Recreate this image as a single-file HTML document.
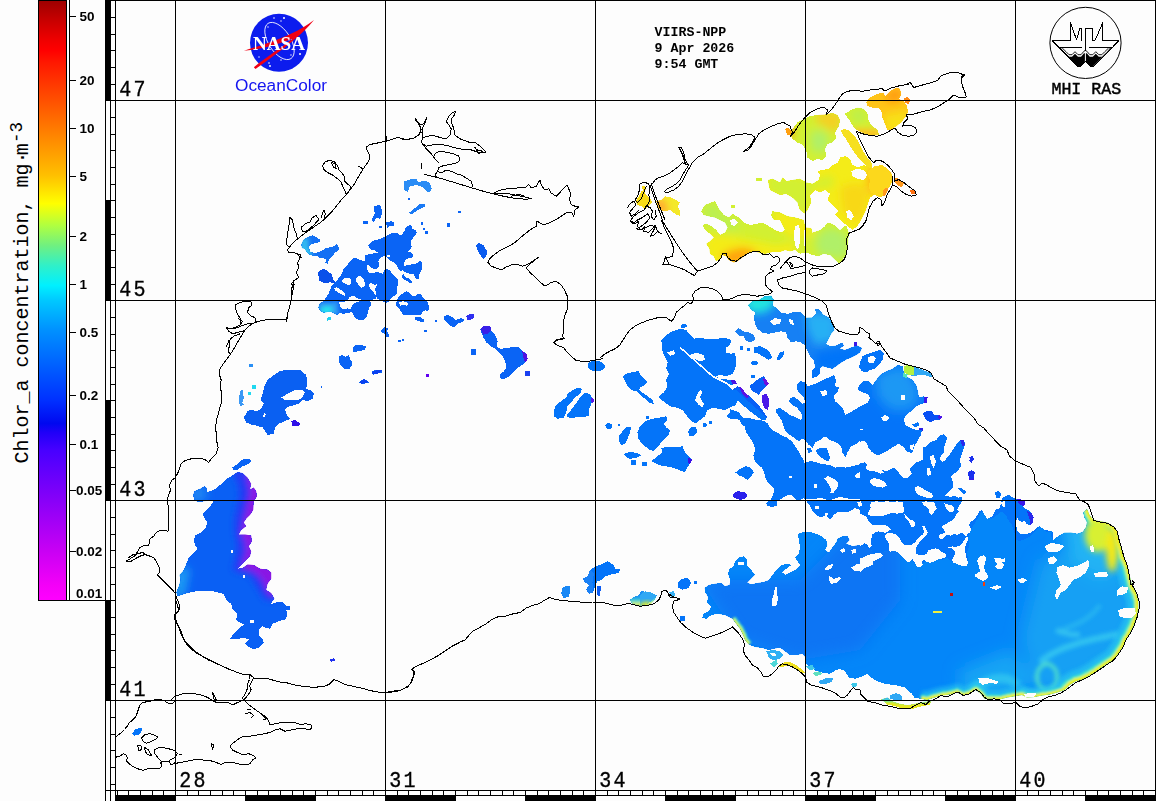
<!DOCTYPE html>
<html lang="en"><head><meta charset="utf-8"><title>VIIRS-NPP Chlor_a Black Sea</title>
<style>
html,body{margin:0;padding:0;background:#fdfdfd;}
body{width:1156px;height:801px;overflow:hidden;position:relative;font-family:"Liberation Mono",monospace;}
svg{position:absolute;left:0;top:0;display:block;}
.g{stroke:#000;stroke-width:1;fill:none;shape-rendering:crispEdges;}
.c{stroke:#000;stroke-width:1;fill:none;stroke-linejoin:round;stroke-linecap:round;shape-rendering:crispEdges;}
.num{font-family:"Liberation Mono",monospace;font-size:21.5px;fill:#000;stroke:#000;stroke-width:0.35px;}
.cb{font-family:"Liberation Sans",sans-serif;font-weight:bold;font-size:13.5px;fill:#000;}
.hd{font-family:"Liberation Mono",monospace;font-weight:bold;font-size:13.3px;fill:#000;}
</style></head><body>
<svg width="1156" height="801" viewBox="0 0 1156 801">
<defs>
<linearGradient id="cbar" x1="0" y1="0" x2="0" y2="1">
<stop offset="0.0000" stop-color="#9c0000"/>
<stop offset="0.0300" stop-color="#c40000"/>
<stop offset="0.0667" stop-color="#f00000"/>
<stop offset="0.0833" stop-color="#ff0000"/>
<stop offset="0.1033" stop-color="#ff1800"/>
<stop offset="0.1667" stop-color="#ff5000"/>
<stop offset="0.2333" stop-color="#ff8c00"/>
<stop offset="0.2917" stop-color="#ffc000"/>
<stop offset="0.3383" stop-color="#ffff00"/>
<stop offset="0.3750" stop-color="#b0ff40"/>
<stop offset="0.4083" stop-color="#70f080"/>
<stop offset="0.4417" stop-color="#30f0c8"/>
<stop offset="0.4750" stop-color="#00f0ff"/>
<stop offset="0.5000" stop-color="#00c8ff"/>
<stop offset="0.5500" stop-color="#0090ff"/>
<stop offset="0.6083" stop-color="#0060ff"/>
<stop offset="0.6667" stop-color="#0030ff"/>
<stop offset="0.7050" stop-color="#0008f0"/>
<stop offset="0.7200" stop-color="#2000f8"/>
<stop offset="0.7500" stop-color="#4800ff"/>
<stop offset="0.8333" stop-color="#8800f8"/>
<stop offset="0.9167" stop-color="#c800f4"/>
<stop offset="0.9750" stop-color="#f400f8"/>
<stop offset="1.0000" stop-color="#ff00ff"/>
</linearGradient>
</defs>
<rect x="0" y="0" width="1156" height="801" fill="#fdfdfd"/>

<defs><filter id="bl1" x="-30%" y="-30%" width="160%" height="160%"><feGaussianBlur stdDeviation="1"/></filter><filter id="bl2" x="-30%" y="-30%" width="160%" height="160%"><feGaussianBlur stdDeviation="2"/></filter><filter id="bl3" x="-30%" y="-30%" width="160%" height="160%"><feGaussianBlur stdDeviation="3"/></filter><filter id="bl4" x="-30%" y="-30%" width="160%" height="160%"><feGaussianBlur stdDeviation="4"/></filter><filter id="bl6" x="-30%" y="-30%" width="160%" height="160%"><feGaussianBlur stdDeviation="6"/></filter><filter id="bl8" x="-30%" y="-30%" width="160%" height="160%"><feGaussianBlur stdDeviation="8"/></filter><filter id="bl12" x="-30%" y="-30%" width="160%" height="160%"><feGaussianBlur stdDeviation="12"/></filter></defs>
<g id="data" shape-rendering="crispEdges">
<path fill="#1470f4" d="M301.3 244.5L303.2 240.1L307.6 237.0L312.6 235.1L316.3 237.0L319.9 239.5L319.5 242.0L315.1 243.2L310.7 244.5L308.8 247.0L310.1 251.4L313.2 252.6L317.0 252.6L321.4 250.7L326.4 247.9L332.6 247.0L336.7 244.1L338.9 247.9L338.3 250.7L335.2 252.6L332.0 256.4L328.9 259.5L327.6 263.7L325.4 263.3L325.7 259.5L322.9 257.6L320.1 258.3L317.8 255.8L313.2 255.8L309.4 254.5L306.3 251.4L304.8 248.9L301.9 247.9Z" />
<path fill="#0a50ea" d="M318.2 272.1L321.4 269.6L324.5 269.2L327.6 271.2L331.4 274.0L332.6 277.1L333.3 280.2L335.2 282.1L333.3 283.4L330.1 282.1L327.0 283.4L323.2 282.7L319.5 280.9L318.6 277.1Z" />
<path fill="#0a64f5" d="M368.4 245.1L371.5 242.0L375.3 240.1L380.3 238.8L384.7 237.0L389.1 234.4L392.2 232.6L396.6 232.6L399.1 235.1L402.3 233.8L404.8 230.7L406.0 226.9L409.2 225.3L412.3 225.7L412.3 228.8L415.4 230.1L416.9 232.6L414.8 235.7L412.3 238.8L410.4 242.0L411.7 246.4L410.4 249.5L407.9 252.0L411.0 252.6L413.6 255.1L411.7 257.6L407.9 258.3L405.4 260.2L403.5 263.3L402.9 267.7L400.4 271.4L398.5 268.9L396.6 265.2L394.1 262.7L390.3 260.8L387.8 258.3L386.0 256.4L382.8 256.4L379.7 256.4L377.8 252.6L375.3 250.7L371.5 249.5L369.0 247.9Z" />
<path fill="#0a64f5" d="M403.5 263.3L404.1 265.8L407.9 265.2L412.9 263.9L417.3 263.3L419.8 260.2L421.7 262.0L421.7 265.2L422.3 268.9L420.4 272.1L419.2 275.2L419.2 279.0L416.7 279.6L414.8 276.5L413.6 274.0L410.4 273.7L407.3 273.3L404.8 272.1L402.9 270.2L400.4 271.4L402.3 265.2Z" />
<path fill="#0a64f5" d="M403.5 274.0L405.4 277.1L408.5 278.3L411.7 280.9L411.7 283.4L408.5 282.1L405.4 280.2L402.9 279.0L401.6 276.5Z" />
<path fill="#0a64f5" d="M365.3 255.1L370.3 253.9L377.8 252.6L382.8 256.4L379.7 258.3L378.4 261.4L379.7 265.2L377.8 268.3L375.3 269.6L372.2 268.3L369.6 265.8L367.1 264.5L365.3 261.4Z" />
<path fill="#0a64f5" d="M352.7 258.3L356.5 258.3L360.2 260.2L365.3 261.4L367.1 264.5L366.5 267.7L368.4 271.4L371.5 275.2L372.2 279.0L370.3 282.7L368.4 285.9L370.9 289.0L373.4 292.1L375.3 295.3L376.5 298.4L374.0 299.3L370.3 300.3L365.3 300.5L360.2 299.3L356.5 297.8L353.3 296.5L350.8 297.2L348.3 299.3L345.2 301.5L323.9 301.5L325.7 297.8L328.3 294.0L330.1 290.3L331.4 286.5L333.9 283.4L337.0 280.2L340.2 276.5L342.7 272.1L343.9 268.3L347.1 265.2L349.6 262.0Z" />
<path fill="#0a64f5" d="M370.3 273.3L377.8 272.1L383.4 274.0L383.4 277.7L380.3 280.2L377.8 283.4L375.3 285.2L372.2 283.4L370.3 282.7L372.2 279.0L371.5 275.2Z" />
<path fill="#0a64f5" d="M386.0 268.9L389.1 269.9L391.6 272.7L394.1 275.2L396.6 277.7L397.9 280.2L397.6 285.2L396.6 289.0L397.2 292.8L395.4 295.3L392.2 297.2L390.3 299.0L388.5 301.5L386.0 302.8L382.8 301.5L379.7 300.3L377.2 298.4L375.3 295.3L373.4 291.5L375.9 287.1L377.8 283.4L380.3 280.2L383.4 277.7L382.8 274.0L384.1 270.8Z" />
<path fill="#0a64f5" d="M397.9 297.8L400.4 295.3L403.5 292.8L406.7 290.9L409.2 292.8L412.3 295.9L415.4 296.5L417.9 293.4L420.4 294.0L423.0 297.2L425.5 299.7L428.0 302.8L429.2 307.8L428.0 311.6L425.5 310.3L423.0 311.6L420.4 315.0L402.9 315.0L400.4 310.3L397.9 307.8L396.0 304.7L396.6 301.5Z" />
<path fill="#fdfdfd" d="M342.1 280.2L345.2 277.7L349.0 277.7L351.5 280.2L350.8 284.0L348.3 285.2L345.2 283.4L342.7 283.4Z" />
<path fill="#fdfdfd" d="M355.9 278.3L358.4 275.8L361.5 276.5L364.0 280.2L365.3 284.0L364.0 287.1L360.9 287.8L358.4 284.6L356.5 281.5Z" />
<path fill="#fdfdfd" d="M333.9 288.4L336.4 287.1L339.5 289.0L342.7 290.9L345.2 293.4L344.6 295.9L342.1 294.6L338.9 292.8L335.8 290.9Z" />
<path fill="#fdfdfd" d="M349.0 297.8L351.5 295.9L354.6 296.5L357.7 298.4L355.2 300.0L351.5 300.0Z" />
<path fill="#fdfdfd" d="M370.3 283.4L372.8 285.2L375.3 290.3L376.5 295.3L374.7 294.6L372.8 290.9L370.9 287.8Z" />
<path fill="#fdfdfd" d="M399.1 232.6L401.6 231.3L402.9 233.2L401.0 235.1Z" />
<path fill="#fdfdfd" d="M386.6 254.5L390.3 255.1L389.1 257.6L386.6 257.0Z" />
<path fill="#0a64f5" d="M318.2 307.6L319.5 303.8L323.9 300.7L331.4 300.1L337.7 300.7L339.5 303.8L340.2 307.0L343.9 309.5L347.7 308.2L350.2 309.5L352.1 306.3L353.3 303.8L357.7 301.9L362.8 300.7L367.8 300.7L371.5 301.9L370.9 305.1L369.0 308.2L367.8 312.6L366.5 317.0L364.0 319.5L359.0 320.1L355.2 317.9L353.3 314.5L351.5 312.0L347.7 313.2L343.3 313.8L340.2 312.8L337.0 314.9L333.9 313.2L331.4 312.0L327.6 312.0L323.9 312.8L320.7 311.3Z" />
<path fill="#0a64f5" d="M326.4 317.9L330.8 317.0L331.1 319.9L327.0 320.7Z" />
<path fill="#0a64f5" d="M380.9 330.8L384.7 326.4L387.8 328.3L387.2 332.0L389.1 334.5L388.5 337.1L386.0 336.4L385.3 333.9L382.8 333.3Z" />
<path fill="#0a64f5" d="M353.3 347.1L355.2 345.2L360.2 345.0L365.9 346.2L365.3 349.2L361.5 350.9L356.5 351.5L354.0 352.5L352.7 350.2Z" />
<path fill="#0a64f5" d="M338.9 355.9L342.7 355.2L345.2 356.7L349.0 355.2L350.2 359.0L352.1 362.1L351.5 365.9L348.3 369.0L345.2 369.3L342.1 366.5L339.5 363.4L339.2 359.6Z" />
<path fill="#0a64f5" d="M371.5 371.5L375.3 370.0L378.4 370.5L382.2 370.3L381.6 372.6L377.8 372.8L374.0 374.7L372.2 374.3Z" />
<path fill="#0a64f5" d="M359.0 382.2L363.4 379.1L366.5 380.3L369.0 382.8L365.3 383.5L361.5 384.1Z" />
<path fill="#0a64f5" d="M290.0 371.5L298.8 370.3L300.0 373.4L305.1 374.7L306.9 380.3L306.3 385.0L290.0 385.0Z" />
<path fill="#0a64f5" d="M397.9 340.2L400.4 339.6L401.0 341.4L398.9 342.7Z" />
<path fill="#0a64f5" d="M401.6 339.2L403.9 338.9L403.9 340.8L401.9 340.9Z" />
<path fill="#0a64f5" d="M424.0 329.9L426.7 329.9L426.7 331.7L424.0 331.7Z" />
<path fill="#0a64f5" d="M415.4 318.9L417.9 317.0L420.4 317.9L421.1 319.9L424.2 320.4L424.5 322.0L421.7 322.4L419.2 320.7L416.7 320.4Z" />
<path fill="#6000f0" d="M426.1 374.1L428.6 374.1L428.6 376.6L426.1 376.6Z" />
<path fill="#fdfdfd" d="M399.1 302.6L402.9 301.3L406.7 301.9L408.5 303.8L407.3 305.7L403.5 305.1L400.4 305.7Z" />
<path fill="#2a8cf5" d="M404.2 181.2L410.0 179.5L416.2 179.0L418.8 182.0L425.0 180.5L430.0 183.0L431.8 188.8L430.0 192.5L426.2 191.2L422.5 187.0L416.2 185.0L410.0 186.2L407.5 192.0L404.5 190.0Z" />
<path fill="#1a7af5" d="M409.2 212.5L412.5 210.0L416.2 207.0L420.0 203.8L424.5 203.8L424.5 207.0L420.0 208.8L416.2 211.2L411.2 214.5Z" />
<path fill="#0a64f5" d="M373.8 206.2L380.0 205.0L381.5 208.8L382.0 213.8L380.0 218.8L376.2 218.0L373.8 222.0L372.0 220.0L373.0 216.2L375.0 213.8L373.8 210.0Z" />
<path fill="#0a64f5" d="M363.2 220.8L368.0 220.8L368.0 223.8L363.2 223.8Z" />
<path fill="#0a64f5" d="M386.2 222.5L391.2 221.2L394.2 222.5L393.8 225.5L390.0 226.2L387.0 228.0Z" />
<path fill="#0a64f5" d="M379.2 225.8L381.8 225.8L381.8 228.0L379.2 228.0Z" />
<path fill="#0a64f5" d="M421.2 222.0L423.2 222.0L423.2 224.5L421.2 224.5Z" />
<path fill="#0a64f5" d="M422.5 227.5L425.0 227.5L425.0 230.0L422.5 230.0Z" />
<path fill="#0a64f5" d="M425.0 231.2L427.5 231.2L427.5 234.2L425.0 234.2Z" />
<path fill="#0a64f5" d="M447.0 223.0L450.0 223.0L450.0 227.0L447.0 227.0Z" />
<path fill="#0a64f5" d="M458.2 210.8L460.8 210.8L460.8 213.2L458.2 213.2Z" />
<path fill="#0a64f5" d="M407.5 197.5L409.5 197.5L409.5 199.5L407.5 199.5Z" />
<path fill="#0a5cf0" d="M476.2 245.0L478.8 243.2L483.8 245.0L485.5 248.8L487.5 251.2L486.2 256.2L483.0 259.2L481.2 256.2L478.8 252.5L476.8 248.8Z" />
<path fill="#0a64f5" d="M443.8 316.2L447.5 315.0L452.5 317.5L456.2 320.0L461.2 318.0L464.5 320.0L461.2 322.5L457.5 323.8L455.0 327.0L450.0 326.2L447.5 322.5L444.5 320.0Z" />
<path fill="#3030f0" d="M466.2 316.2L470.0 313.8L473.8 313.8L474.5 317.0L471.2 319.5L467.5 319.5Z" />
<path fill="#0a64f5" d="M434.5 319.5L437.0 319.5L437.0 322.0L434.5 322.0Z" />
<path fill="#0a64f5" d="M415.0 317.5L420.0 317.0L424.5 320.0L423.8 322.5L418.8 321.2L415.5 320.0Z" />
<path fill="#0a64f5" d="M424.2 329.5L426.8 329.5L426.8 332.0L424.2 332.0Z" />
<path fill="#0a64f5" d="M471.2 348.8L475.0 348.8L475.8 353.8L472.5 355.0L471.2 352.0Z" />
<path fill="#0a64f5" d="M480.2 328.8L484.0 325.8L490.2 326.2L491.5 331.2L495.2 335.0L497.8 341.2L496.5 346.2L500.2 348.8L506.5 348.0L512.8 347.0L519.0 347.5L522.8 351.2L526.5 353.8L527.8 358.8L525.2 362.5L521.5 365.5L516.5 368.8L512.8 372.5L509.0 376.2L504.0 379.5L499.5 378.0L500.2 373.8L504.0 371.2L506.5 367.0L505.2 361.2L502.8 356.2L499.0 352.5L495.2 348.8L490.2 346.2L486.5 342.5L483.5 337.5L481.5 332.5Z" />
<path fill="#3a20e8" d="M480.2 328.8L484.0 325.8L490.2 326.2L491.5 330.5L487.8 333.8L483.5 334.5Z" />
<path fill="#5010e0" d="M522.0 351.2L526.5 353.8L527.8 358.8L525.2 362.5L523.5 358.0Z" />
<path fill="#0a64f5" d="M471.0 349.2L476.0 349.2L476.0 354.5L471.0 354.5Z" />
<path fill="#1a40f0" d="M525.2 371.2L529.8 371.2L529.8 375.8L525.2 375.8Z" />
<path fill="#0a60f2" d="M243.8 417.5L247.5 411.2L251.2 409.5L256.2 411.2L261.2 408.8L263.8 403.8L260.5 400.0L262.5 393.8L264.5 386.2L267.5 380.0L273.8 375.0L280.0 371.2L287.5 369.5L300.0 370.0L306.2 375.0L307.5 382.5L306.2 388.8L310.0 390.0L313.8 393.8L312.5 398.8L307.5 401.2L302.5 400.0L298.8 403.8L290.0 406.2L285.0 408.8L286.2 413.8L290.0 418.8L285.0 421.2L278.8 423.8L275.0 427.5L273.8 433.8L267.5 435.0L265.0 431.2L262.5 427.5L256.2 425.5L251.2 424.5L246.2 422.5Z" />
<path fill="#fdfdfd" d="M281.2 397.5L287.5 393.8L295.0 390.0L301.2 389.5L305.0 392.0L302.5 397.5L297.5 400.0L290.0 400.0L285.0 400.0Z" />
<path fill="#fdfdfd" d="M262.5 416.2L264.5 413.0L265.8 414.5L264.0 418.0Z" />
<path fill="#2a90f5" d="M248.8 363.8L253.0 363.8L253.0 366.8L248.8 366.8Z" />
<path fill="#20d8f0" d="M252.0 385.0L256.2 385.0L256.2 388.8L252.0 388.8Z" />
<path fill="#20d8f0" d="M247.5 392.0L251.2 392.0L251.2 395.0L247.5 395.0Z" />
<path fill="#3a98f5" d="M240.0 391.2L242.5 390.0L243.8 397.5L242.5 402.5L243.8 405.0L240.0 406.2L238.8 400.0Z" />
<path fill="#3010e8" d="M291.2 421.2L295.0 420.0L300.0 423.0L299.5 425.5L292.5 425.5Z" />
<path fill="#0a64f5" d="M320.5 385.8L322.0 385.8L322.0 387.5L320.5 387.5Z" />
<path fill="#0a64f5" d="M340.0 360.0L351.2 360.0L352.0 365.0L348.8 369.5L343.8 367.5L339.5 363.0Z" />
<path fill="#0a40f0" d="M359.5 382.0L363.8 378.8L368.8 382.0L365.0 383.0L361.2 383.8Z" />
<path fill="#0a40f0" d="M372.0 372.0L377.5 370.0L382.0 370.5L380.0 373.0L375.0 374.5L372.0 374.0Z" />
<path fill="#0a64f5" d="M232.5 467.5L237.5 463.8L242.5 459.5L248.8 458.8L251.2 461.2L247.5 464.5L242.5 466.2L237.5 470.0L233.8 470.5Z" />
<path fill="#0a60f4" d="M193.0 495.0L194.5 491.2L200.0 488.8L204.5 486.2L207.0 488.0L207.0 492.0L213.8 490.0L220.0 485.0L225.0 480.0L231.2 476.2L237.5 472.0L242.5 473.0L247.5 477.5L251.2 483.8L250.0 489.5L253.8 487.5L256.2 491.2L257.0 496.2L253.8 501.2L253.2 510.0L250.0 515.0L246.2 518.8L243.8 522.5L246.2 526.2L241.2 530.0L238.8 534.5L245.0 534.5L251.2 535.5L252.0 541.2L248.8 546.2L251.2 551.2L250.0 556.2L245.0 561.2L240.0 566.2L237.5 568.8L242.5 568.0L247.5 564.5L253.8 565.0L260.0 568.8L267.5 569.5L271.2 572.5L271.2 578.8L267.5 583.8L266.2 590.0L271.2 593.0L274.5 598.8L270.0 604.5L277.5 602.0L283.0 602.0L286.2 605.5L290.0 606.2L290.0 609.5L286.2 610.0L287.5 615.0L285.0 619.5L278.8 621.2L272.5 623.8L270.0 628.8L266.2 628.0L262.5 626.2L258.8 630.0L258.8 635.0L262.5 638.8L263.8 643.0L258.8 647.5L253.8 649.5L248.8 647.0L245.0 643.0L248.8 639.5L245.0 638.0L237.5 638.8L230.0 638.8L233.8 633.8L238.8 628.8L243.8 624.5L240.0 622.5L236.2 620.0L237.5 613.8L232.5 608.8L231.2 603.8L226.2 600.0L223.8 593.8L217.5 592.5L210.0 590.5L201.2 590.5L192.5 592.0L185.0 593.8L177.5 596.2L176.2 592.5L178.8 586.2L180.5 580.0L179.5 575.0L183.8 570.0L186.2 563.8L188.8 557.5L193.8 552.5L197.5 548.8L195.0 545.0L193.8 540.0L195.5 535.5L201.2 532.5L205.0 528.8L207.5 522.5L205.0 518.8L202.5 513.8L206.2 510.0L211.2 505.0L213.8 500.5L197.5 502.0L194.5 499.5Z" />
<clipPath id="cp1"><path d="M193.0 495.0L194.5 491.2L200.0 488.8L204.5 486.2L207.0 488.0L207.0 492.0L213.8 490.0L220.0 485.0L225.0 480.0L231.2 476.2L237.5 472.0L242.5 473.0L247.5 477.5L251.2 483.8L250.0 489.5L253.8 487.5L256.2 491.2L257.0 496.2L253.8 501.2L253.2 510.0L250.0 515.0L246.2 518.8L243.8 522.5L246.2 526.2L241.2 530.0L238.8 534.5L245.0 534.5L251.2 535.5L252.0 541.2L248.8 546.2L251.2 551.2L250.0 556.2L245.0 561.2L240.0 566.2L237.5 568.8L242.5 568.0L247.5 564.5L253.8 565.0L260.0 568.8L267.5 569.5L271.2 572.5L271.2 578.8L267.5 583.8L266.2 590.0L271.2 593.0L274.5 598.8L270.0 604.5L277.5 602.0L283.0 602.0L286.2 605.5L290.0 606.2L290.0 609.5L286.2 610.0L287.5 615.0L285.0 619.5L278.8 621.2L272.5 623.8L270.0 628.8L266.2 628.0L262.5 626.2L258.8 630.0L258.8 635.0L262.5 638.8L263.8 643.0L258.8 647.5L253.8 649.5L248.8 647.0L245.0 643.0L248.8 639.5L245.0 638.0L237.5 638.8L230.0 638.8L233.8 633.8L238.8 628.8L243.8 624.5L240.0 622.5L236.2 620.0L237.5 613.8L232.5 608.8L231.2 603.8L226.2 600.0L223.8 593.8L217.5 592.5L210.0 590.5L201.2 590.5L192.5 592.0L185.0 593.8L177.5 596.2L176.2 592.5L178.8 586.2L180.5 580.0L179.5 575.0L183.8 570.0L186.2 563.8L188.8 557.5L193.8 552.5L197.5 548.8L195.0 545.0L193.8 540.0L195.5 535.5L201.2 532.5L205.0 528.8L207.5 522.5L205.0 518.8L202.5 513.8L206.2 510.0L211.2 505.0L213.8 500.5L197.5 502.0L194.5 499.5Z"/></clipPath><g clip-path="url(#cp1)"><g filter="url(#bl3)">
<path fill="#2838f4" d="M232.5 470.0L260.0 470.0L260.0 505.0L255.0 532.5L255.0 562.5L277.5 567.5L277.5 600.0L265.0 600.0L257.5 587.5L250.0 575.0L240.0 572.5L232.5 570.0L236.2 557.5L237.5 545.0L235.0 532.5L234.5 520.0L237.5 507.5L240.0 495.0L238.8 485.0L235.0 477.5Z" />
<path fill="#8a14e4" d="M246.2 475.0L261.2 475.0L261.2 505.0L255.0 532.5L256.2 560.0L277.5 565.0L277.5 595.0L271.2 596.2L266.2 590.0L262.5 580.0L256.2 573.8L247.5 569.5L241.2 568.8L243.8 560.0L246.2 550.0L244.5 540.0L241.2 535.5L242.0 530.0L243.8 520.0L246.2 510.0L248.8 500.0L250.0 492.5L248.8 485.0Z" />
</g></g>
<clipPath id="cp2"><path d="M193.0 495.0L194.5 491.2L200.0 488.8L204.5 486.2L207.0 488.0L207.0 492.0L213.8 490.0L220.0 485.0L225.0 480.0L231.2 476.2L237.5 472.0L242.5 473.0L247.5 477.5L251.2 483.8L250.0 489.5L253.8 487.5L256.2 491.2L257.0 496.2L253.8 501.2L253.2 510.0L250.0 515.0L246.2 518.8L243.8 522.5L246.2 526.2L241.2 530.0L238.8 534.5L245.0 534.5L251.2 535.5L252.0 541.2L248.8 546.2L251.2 551.2L250.0 556.2L245.0 561.2L240.0 566.2L237.5 568.8L242.5 568.0L247.5 564.5L253.8 565.0L260.0 568.8L267.5 569.5L271.2 572.5L271.2 578.8L267.5 583.8L266.2 590.0L271.2 593.0L274.5 598.8L270.0 604.5L277.5 602.0L283.0 602.0L286.2 605.5L290.0 606.2L290.0 609.5L286.2 610.0L287.5 615.0L285.0 619.5L278.8 621.2L272.5 623.8L270.0 628.8L266.2 628.0L262.5 626.2L258.8 630.0L258.8 635.0L262.5 638.8L263.8 643.0L258.8 647.5L253.8 649.5L248.8 647.0L245.0 643.0L248.8 639.5L245.0 638.0L237.5 638.8L230.0 638.8L233.8 633.8L238.8 628.8L243.8 624.5L240.0 622.5L236.2 620.0L237.5 613.8L232.5 608.8L231.2 603.8L226.2 600.0L223.8 593.8L217.5 592.5L210.0 590.5L201.2 590.5L192.5 592.0L185.0 593.8L177.5 596.2L176.2 592.5L178.8 586.2L180.5 580.0L179.5 575.0L183.8 570.0L186.2 563.8L188.8 557.5L193.8 552.5L197.5 548.8L195.0 545.0L193.8 540.0L195.5 535.5L201.2 532.5L205.0 528.8L207.5 522.5L205.0 518.8L202.5 513.8L206.2 510.0L211.2 505.0L213.8 500.5L197.5 502.0L194.5 499.5Z"/></clipPath><g clip-path="url(#cp2)"><g filter="url(#bl4)">
<path fill="#1a9cf4" d="M175.0 600.0L175.0 577.5L182.5 565.0L190.0 570.0L187.5 582.5L185.0 595.0Z" />
<path fill="#1a84f4" d="M190.0 502.5L190.0 487.5L205.0 485.0L207.5 495.0L202.5 502.5Z" />
</g></g>
<path fill="#fdfdfd" d="M231.2 550.0L233.0 550.0L233.0 553.0L231.2 553.0Z" />
<path fill="#fdfdfd" d="M242.5 575.0L245.0 575.0L245.0 578.0L242.5 578.0Z" />
<path fill="#fdfdfd" d="M250.0 620.0L253.8 620.0L253.8 622.5L250.0 622.5Z" />
<path fill="#2030f0" d="M330.0 659.5L333.8 658.0L335.0 660.5L331.2 662.0Z" />
<path fill="#d2f032" d="M701.2 211.2L705.0 205.0L711.2 202.5L715.0 201.2L718.8 208.8L723.8 215.0L728.8 217.5L732.5 213.8L738.8 217.5L743.8 222.5L750.0 225.0L756.2 223.8L762.5 222.5L768.8 226.2L775.0 230.0L781.2 232.5L785.0 230.0L782.5 225.0L780.0 220.0L773.8 220.0L771.2 215.0L772.5 211.2L780.0 212.5L787.5 216.2L795.0 217.5L803.8 220.0L805.0 227.5L811.2 228.0L812.5 232.5L820.0 230.0L825.0 226.2L827.5 222.5L832.5 223.8L840.0 230.0L846.2 225.0L848.8 232.5L848.0 245.0L846.2 253.8L842.5 260.0L838.8 263.8L835.0 260.0L830.0 255.0L823.8 253.8L818.8 256.2L812.5 255.0L806.2 252.5L800.0 253.8L795.0 250.0L790.0 251.2L785.0 250.0L780.0 252.0L772.5 252.0L765.0 253.8L758.8 252.5L752.5 251.2L747.5 253.8L742.5 257.5L737.5 261.2L733.8 262.5L728.8 260.0L726.2 256.2L722.5 255.0L720.0 258.8L716.2 261.2L713.8 256.2L710.0 253.8L709.5 248.8L706.2 243.8L710.0 241.2L713.8 237.5L710.0 233.8L705.0 230.0L702.5 225.0L706.2 223.8L711.2 226.2L716.2 230.0L720.0 235.0L725.0 232.5L727.5 227.5L725.0 222.5L720.0 220.0L715.0 217.5L708.8 216.2L703.8 215.0Z" />
<clipPath id="cp3"><path d="M701.2 211.2L705.0 205.0L711.2 202.5L715.0 201.2L718.8 208.8L723.8 215.0L728.8 217.5L732.5 213.8L738.8 217.5L743.8 222.5L750.0 225.0L756.2 223.8L762.5 222.5L768.8 226.2L775.0 230.0L781.2 232.5L785.0 230.0L782.5 225.0L780.0 220.0L773.8 220.0L771.2 215.0L772.5 211.2L780.0 212.5L787.5 216.2L795.0 217.5L803.8 220.0L805.0 227.5L811.2 228.0L812.5 232.5L820.0 230.0L825.0 226.2L827.5 222.5L832.5 223.8L840.0 230.0L846.2 225.0L848.8 232.5L848.0 245.0L846.2 253.8L842.5 260.0L838.8 263.8L835.0 260.0L830.0 255.0L823.8 253.8L818.8 256.2L812.5 255.0L806.2 252.5L800.0 253.8L795.0 250.0L790.0 251.2L785.0 250.0L780.0 252.0L772.5 252.0L765.0 253.8L758.8 252.5L752.5 251.2L747.5 253.8L742.5 257.5L737.5 261.2L733.8 262.5L728.8 260.0L726.2 256.2L722.5 255.0L720.0 258.8L716.2 261.2L713.8 256.2L710.0 253.8L709.5 248.8L706.2 243.8L710.0 241.2L713.8 237.5L710.0 233.8L705.0 230.0L702.5 225.0L706.2 223.8L711.2 226.2L716.2 230.0L720.0 235.0L725.0 232.5L727.5 227.5L725.0 222.5L720.0 220.0L715.0 217.5L708.8 216.2L703.8 215.0Z"/></clipPath><g clip-path="url(#cp3)"><g filter="url(#bl4)">
<path fill="#f4ec18" d="M705.0 235.0L725.0 235.0L750.0 240.0L775.0 245.0L795.0 242.5L795.0 267.5L705.0 267.5Z" />
<path fill="#f4ec18" d="M770.0 210.0L795.0 212.5L810.0 220.0L815.0 232.5L800.0 240.0L785.0 235.0L775.0 225.0Z" />
<path fill="#ffa010" d="M721.2 255.0L730.0 250.5L740.0 248.0L750.0 248.8L756.2 252.0L755.0 257.5L745.0 260.0L735.0 266.2L725.0 263.8Z" />
<path fill="#b0f068" d="M817.5 235.0L827.5 227.5L840.0 230.0L848.0 237.5L848.0 252.5L840.0 260.0L830.0 256.2L820.0 256.2L815.0 245.0Z" />
<path fill="#bcf050" d="M702.5 205.0L717.5 202.5L727.5 217.5L740.0 222.5L737.5 230.0L725.0 230.0L710.0 225.0L702.5 217.5Z" />
</g></g>
<path fill="#fdfdfd" d="M795.0 226.2L798.8 225.0L800.5 232.5L800.0 242.5L798.0 250.0L795.0 245.0L793.8 235.0Z" />
<path fill="#fdfdfd" d="M803.8 230.0L805.5 229.5L806.2 245.0L804.5 246.2Z" />
<path fill="#fdfdfd" d="M730.0 220.0L733.8 218.8L737.5 222.5L735.0 226.2L731.2 225.0Z" />
<path fill="#f4ec18" d="M768.0 180.0L772.5 178.8L780.0 182.5L782.5 177.5L786.2 181.2L792.5 180.0L800.0 178.8L806.2 182.5L812.5 183.8L818.8 180.0L820.0 175.0L817.5 171.2L822.5 170.0L828.8 168.8L832.5 165.0L837.5 162.5L840.0 157.5L845.0 156.2L850.0 158.8L852.5 165.0L857.5 167.5L863.8 165.0L870.0 167.5L875.0 170.0L880.0 167.5L886.2 168.8L891.2 172.5L892.5 180.0L888.8 185.0L885.0 190.0L880.0 192.5L873.8 195.0L870.0 197.5L867.5 205.0L865.0 212.5L861.2 220.0L857.5 226.2L852.5 230.0L846.2 225.0L840.0 220.0L835.0 215.0L838.8 211.2L832.5 205.0L827.5 200.0L830.0 193.8L825.0 190.0L820.0 192.5L815.0 190.0L810.0 195.0L811.2 202.5L807.5 210.0L805.0 213.8L800.0 210.0L797.5 202.5L792.5 197.5L786.2 193.8L780.0 195.0L775.0 192.5L770.0 190.0L768.8 185.0Z" />
<clipPath id="cp4"><path d="M768.0 180.0L772.5 178.8L780.0 182.5L782.5 177.5L786.2 181.2L792.5 180.0L800.0 178.8L806.2 182.5L812.5 183.8L818.8 180.0L820.0 175.0L817.5 171.2L822.5 170.0L828.8 168.8L832.5 165.0L837.5 162.5L840.0 157.5L845.0 156.2L850.0 158.8L852.5 165.0L857.5 167.5L863.8 165.0L870.0 167.5L875.0 170.0L880.0 167.5L886.2 168.8L891.2 172.5L892.5 180.0L888.8 185.0L885.0 190.0L880.0 192.5L873.8 195.0L870.0 197.5L867.5 205.0L865.0 212.5L861.2 220.0L857.5 226.2L852.5 230.0L846.2 225.0L840.0 220.0L835.0 215.0L838.8 211.2L832.5 205.0L827.5 200.0L830.0 193.8L825.0 190.0L820.0 192.5L815.0 190.0L810.0 195.0L811.2 202.5L807.5 210.0L805.0 213.8L800.0 210.0L797.5 202.5L792.5 197.5L786.2 193.8L780.0 195.0L775.0 192.5L770.0 190.0L768.8 185.0Z"/></clipPath><g clip-path="url(#cp4)"><g filter="url(#bl4)">
<path fill="#d2f032" d="M765.0 175.0L795.0 175.0L810.0 180.0L820.0 180.0L827.5 175.0L835.0 180.0L830.0 187.5L815.0 187.5L810.0 195.0L812.5 205.0L805.0 217.5L795.0 210.0L780.0 197.5L767.5 192.5Z" />
<path fill="#ffb818" d="M870.0 165.0L895.0 167.5L895.0 187.5L882.5 193.8L872.5 196.2L867.5 187.5L866.2 177.5Z" />
<path fill="#f8d818" d="M840.0 187.5L855.0 182.5L867.5 187.5L867.5 205.0L860.0 222.5L850.0 220.0L842.5 210.0Z" />
</g></g>
<path fill="#fdfdfd" d="M851.2 171.2L856.2 168.8L863.8 170.0L867.5 175.0L863.8 180.0L857.5 178.8L852.5 176.2Z" />
<path fill="#fdfdfd" d="M820.0 197.5L823.8 195.0L827.5 198.8L825.0 202.5L821.2 202.0Z" />
<path fill="#fdfdfd" d="M846.2 211.2L850.0 210.0L853.8 216.2L851.2 220.0L847.5 217.5Z" />
<path fill="#d2f032" d="M788.8 132.5L792.5 128.8L797.5 122.5L803.8 118.8L810.0 116.2L817.5 115.0L825.0 114.5L832.5 113.0L837.5 115.0L840.0 120.0L838.8 126.2L835.0 132.5L836.2 138.8L832.5 142.5L827.5 143.8L825.0 148.8L826.2 156.2L822.5 160.0L817.5 158.8L812.5 161.2L807.5 157.5L806.2 150.0L802.5 145.0L797.5 142.5L792.5 138.8Z" />
<clipPath id="cp5"><path d="M788.8 132.5L792.5 128.8L797.5 122.5L803.8 118.8L810.0 116.2L817.5 115.0L825.0 114.5L832.5 113.0L837.5 115.0L840.0 120.0L838.8 126.2L835.0 132.5L836.2 138.8L832.5 142.5L827.5 143.8L825.0 148.8L826.2 156.2L822.5 160.0L817.5 158.8L812.5 161.2L807.5 157.5L806.2 150.0L802.5 145.0L797.5 142.5L792.5 138.8Z"/></clipPath><g clip-path="url(#cp5)"><g filter="url(#bl4)">
<path fill="#b0f068" d="M810.0 132.5L820.0 130.0L828.8 135.0L827.5 147.5L820.0 153.8L811.2 150.0Z" />
<path fill="#f4d020" d="M815.0 112.5L840.0 111.2L841.2 127.5L832.5 132.5L825.0 126.2L817.5 123.8Z" />
<path fill="#ffa010" d="M782.5 126.2L792.5 126.2L792.5 137.5L782.5 137.5Z" />
</g></g>
<path fill="#ffa010" d="M785.0 128.8L788.8 128.0L791.2 131.2L790.0 135.5L787.0 134.5Z" />
<path fill="#f6e020" d="M841.2 130.0L845.0 128.8L850.0 131.2L855.0 136.2L858.8 142.5L862.5 150.0L867.5 157.5L872.5 163.8L871.2 168.8L866.2 166.2L861.2 161.2L856.2 155.0L852.5 150.0L848.8 143.8L845.0 137.5L842.0 133.8Z" />
<path fill="#d2f032" d="M845.0 113.8L851.2 110.0L857.5 107.5L863.8 108.8L867.5 113.8L868.8 121.2L872.5 126.2L877.5 130.0L878.8 134.5L872.5 136.2L865.0 133.8L858.8 131.2L853.8 127.5L850.0 121.2L847.5 117.5Z" />
<clipPath id="cp6"><path d="M845.0 113.8L851.2 110.0L857.5 107.5L863.8 108.8L867.5 113.8L868.8 121.2L872.5 126.2L877.5 130.0L878.8 134.5L872.5 136.2L865.0 133.8L858.8 131.2L853.8 127.5L850.0 121.2L847.5 117.5Z"/></clipPath><g clip-path="url(#cp6)"><g filter="url(#bl3)">
<path fill="#ffc020" d="M852.5 128.8L880.0 128.8L880.0 137.5L852.5 137.5Z" />
<path fill="#c0f048" d="M850.0 110.0L863.8 110.0L866.2 120.0L855.0 123.8Z" />
</g></g>
<path fill="#ffc418" d="M866.2 102.5L870.0 97.5L877.5 93.8L883.8 92.5L885.0 96.2L890.0 91.2L896.2 87.5L900.0 88.8L901.2 95.0L898.8 98.8L903.8 101.2L907.0 106.2L908.0 112.5L905.0 117.5L901.2 122.5L896.2 126.2L891.2 129.5L887.5 130.0L885.0 123.8L882.5 117.5L881.2 110.0L877.5 107.5L872.5 107.5L867.5 106.2Z" />
<clipPath id="cp7"><path d="M866.2 102.5L870.0 97.5L877.5 93.8L883.8 92.5L885.0 96.2L890.0 91.2L896.2 87.5L900.0 88.8L901.2 95.0L898.8 98.8L903.8 101.2L907.0 106.2L908.0 112.5L905.0 117.5L901.2 122.5L896.2 126.2L891.2 129.5L887.5 130.0L885.0 123.8L882.5 117.5L881.2 110.0L877.5 107.5L872.5 107.5L867.5 106.2Z"/></clipPath><g clip-path="url(#cp7)"><g filter="url(#bl4)">
<path fill="#ff9a10" d="M885.0 95.0L891.2 90.0L901.2 88.0L902.5 97.5L895.0 102.5L887.5 101.2Z" />
<path fill="#f8e018" d="M882.5 115.0L907.5 110.0L907.5 132.5L885.0 132.5Z" />
</g></g>
<path fill="#fdfdfd" d="M868.8 111.2L877.5 110.0L881.2 115.0L882.5 121.2L885.0 126.2L880.0 128.8L875.0 126.2L871.2 122.5L868.8 117.5Z" />
<path fill="#ff8a18" d="M903.8 98.0L907.5 97.0L910.0 100.0L908.8 103.8L905.0 103.0Z" />
<path fill="#fcd81c" d="M868.8 170.0L875.0 166.2L882.5 165.0L887.5 168.8L891.2 175.0L892.5 181.2L890.0 186.2L886.2 190.0L883.8 195.0L880.0 197.5L875.0 195.0L871.2 192.5L868.8 187.5L870.0 180.0L867.5 175.0Z" />
<path fill="#ff9a20" d="M894.5 177.5L898.8 178.8L903.8 183.8L901.2 187.5L897.5 185.0L895.0 182.5Z" />
<path fill="#ff7010" d="M910.0 190.0L915.0 189.5L915.5 194.0L911.2 194.5Z" />
<path fill="#ff9a20" d="M882.5 191.2L885.5 187.5L888.8 187.5L887.0 192.5L883.8 197.5Z" />
<path fill="#f8dc18" d="M635.5 201.2L638.8 196.2L641.2 191.2L643.8 190.0L646.2 195.0L650.0 197.5L652.0 202.5L648.8 206.2L645.0 210.0L641.2 206.2L637.5 205.0Z" />
<path fill="#f8dc18" d="M642.0 185.5L645.0 185.5L645.5 189.5L642.5 189.5Z" />
<path fill="#f4e828" d="M656.2 201.2L661.2 200.0L665.0 196.2L671.2 197.5L676.2 200.0L680.0 202.5L677.5 206.2L680.0 211.2L680.0 216.2L675.0 213.8L670.0 210.0L665.0 211.2L660.0 210.0L657.5 206.2Z" />
<clipPath id="cp8"><path d="M656.2 201.2L661.2 200.0L665.0 196.2L671.2 197.5L676.2 200.0L680.0 202.5L677.5 206.2L680.0 211.2L680.0 216.2L675.0 213.8L670.0 210.0L665.0 211.2L660.0 210.0L657.5 206.2Z"/></clipPath><g clip-path="url(#cp8)"><g filter="url(#bl3)">
<path fill="#ffb030" d="M655.0 198.8L665.0 200.0L668.8 212.5L655.0 212.5Z" />
</g></g>
<path fill="#d2f032" d="M756.2 177.5L762.0 177.5L762.0 181.2L756.2 181.2Z" />
<path fill="#d2f032" d="M731.2 205.0L734.5 205.0L734.5 208.2L731.2 208.2Z" />
<path fill="#0474f9" d="M553.8 410.0L556.2 405.0L561.2 401.2L566.2 397.5L567.5 393.8L572.5 390.0L577.5 387.5L582.0 388.8L580.0 393.8L575.0 397.5L571.2 402.5L567.5 406.2L566.2 412.5L563.8 417.5L557.5 418.8L553.8 416.2Z" />
<path fill="#0474f9" d="M566.2 416.2L570.0 411.2L573.8 406.2L577.5 401.2L581.2 396.2L585.0 392.5L590.0 394.5L593.8 400.0L591.2 403.8L588.8 410.0L588.8 416.2L582.5 417.0L575.0 417.5L570.0 418.0Z" />
<path fill="#5a18e8" d="M591.2 397.5L594.5 400.0L593.0 403.0L591.0 402.0Z" />
<path fill="#0474f9" d="M587.5 363.8L591.2 361.2L598.8 360.5L603.8 363.8L605.5 367.5L601.2 370.5L593.8 371.2L588.8 368.8Z" />
<path fill="#0474f9" d="M622.5 376.2L626.2 373.8L632.5 372.0L638.8 371.2L640.0 375.0L643.8 378.8L647.0 382.0L645.0 385.0L640.0 387.5L638.8 390.0L642.5 392.5L647.5 396.2L652.5 400.0L653.8 403.8L650.0 403.0L645.0 398.8L640.0 395.0L636.2 391.2L631.2 390.0L627.5 386.2L625.0 381.2Z" />
<path fill="#0474f9" d="M661.2 340.0L665.0 336.2L670.0 332.5L676.2 330.0L681.2 328.8L686.2 330.0L690.0 335.0L693.8 338.8L700.0 337.5L707.5 339.5L715.0 338.8L725.0 338.0L731.2 340.0L730.0 345.0L726.2 347.5L726.2 352.5L731.2 353.8L735.0 352.5L736.2 360.0L735.5 367.5L732.5 373.8L726.2 376.2L720.0 375.0L715.0 376.2L720.0 378.8L727.5 379.5L733.8 381.2L736.2 383.8L731.2 385.0L726.2 383.8L730.0 387.5L735.0 392.5L737.5 398.8L736.2 405.0L730.0 407.5L725.0 410.0L718.8 408.8L712.5 407.5L707.5 410.0L705.0 416.2L700.0 420.0L696.2 423.8L690.0 420.0L686.2 415.0L682.5 410.0L676.2 407.5L670.0 406.2L665.0 402.5L660.0 398.8L658.8 396.2L663.8 392.5L667.5 386.2L666.2 380.0L668.8 373.8L666.2 368.8L667.5 362.5L665.0 357.5L662.5 351.2L662.0 345.0Z" />
<path d="M680.0 347.5L687.5 353.8L693.8 359.5L700.0 365.0L706.2 370.5L712.5 376.2L718.8 379.5L726.2 383.0L732.5 387.0" fill="none" stroke="#fdfdfd" stroke-width="1.6"/>
<path fill="#fdfdfd" d="M690.0 355.0L696.2 352.5L703.8 355.0L705.0 360.0L700.0 361.2L693.8 358.8Z" />
<path fill="#fdfdfd" d="M700.0 390.0L702.5 391.2L700.0 397.5L703.8 403.8L702.5 407.5L698.8 405.0L695.0 400.0L697.0 395.0Z" />
<path fill="#fdfdfd" d="M667.5 352.5L673.8 350.0L675.0 353.8L670.0 356.2Z" />
<path fill="#0474f9" d="M637.5 432.5L640.0 426.2L645.0 421.2L652.5 418.8L660.0 417.5L666.2 416.2L667.5 420.0L663.8 423.8L666.2 427.5L670.0 430.0L668.8 435.0L665.0 438.8L661.2 442.5L657.5 447.5L653.8 451.2L650.0 450.0L645.0 446.2L640.0 441.2L637.5 437.5Z" />
<path fill="#0474f9" d="M651.2 461.2L657.5 456.2L662.5 452.5L661.2 448.0L667.5 447.0L675.0 447.5L682.5 446.2L685.0 452.5L688.8 456.2L692.5 460.0L688.8 465.0L685.0 472.0L678.8 470.0L672.5 467.5L665.0 466.2L658.8 465.0Z" />
<path fill="#3a10e8" d="M688.8 457.5L692.5 460.0L689.5 464.5L687.5 461.2Z" />
<path fill="#0474f9" d="M605.0 425.0L608.8 422.5L612.5 425.0L611.2 428.8L607.0 429.5Z" />
<path fill="#0474f9" d="M618.8 436.2L622.5 431.2L626.2 427.5L631.2 427.0L630.0 432.5L627.5 438.8L625.0 443.8L621.2 445.5L618.8 441.2Z" />
<path fill="#0474f9" d="M623.8 453.8L630.0 452.0L637.5 453.0L641.2 455.5L636.2 458.0L630.0 458.8L626.2 457.0Z" />
<path fill="#0474f9" d="M631.2 460.0L636.2 460.0L636.2 464.5L631.2 464.5Z" />
<path fill="#0474f9" d="M642.0 462.0L647.0 462.0L647.0 465.5L642.0 465.5Z" />
<path fill="#0474f9" d="M688.0 431.2L691.2 427.0L696.2 427.5L697.0 432.5L693.8 436.2L689.5 435.5Z" />
<path fill="#0474f9" d="M680.5 325.0L685.0 323.8L687.5 325.8L684.5 328.0L681.2 327.5Z" />
<path fill="#0474f9" d="M646.2 416.2L648.8 416.2L648.8 418.8L646.2 418.8Z" />
<path fill="#0474f9" d="M617.5 423.8L620.0 423.8L620.0 426.2L617.5 426.2Z" />
<path fill="#0474f9" d="M702.5 423.8L706.2 422.5L707.0 426.2L703.8 427.5Z" />
<path fill="#0474f9" d="M708.8 420.5L712.0 420.5L712.0 423.8L708.8 423.8Z" />
<path fill="#1a80f5" d="M735.0 331.2L738.8 328.0L742.5 331.2L748.8 332.5L753.8 335.0L755.5 339.5L751.2 342.0L746.2 341.2L743.8 336.2L738.8 335.5Z" />
<path fill="#0474f9" d="M753.8 347.0L760.0 346.2L766.2 348.8L770.0 352.5L772.0 357.5L768.8 360.0L763.8 357.0L758.8 353.8L754.5 352.5Z" />
<path fill="#0474f9" d="M777.0 357.5L780.0 352.5L784.5 351.2L783.8 355.0L780.5 359.5L777.5 360.0Z" />
<path fill="#0474f9" d="M750.5 362.0L755.0 360.5L758.8 363.0L756.2 365.5L752.0 365.0Z" />
<path fill="#0474f9" d="M740.0 346.2L743.0 346.2L743.0 350.0L740.0 350.0Z" />
<path fill="#0474f9" d="M747.0 347.5L750.0 347.5L750.0 351.2L747.0 351.2Z" />
<path fill="#0474f9" d="M751.2 375.0L755.0 375.0L755.0 377.5L751.2 377.5Z" />
<path fill="#0860f6" d="M749.5 386.2L753.8 382.5L758.8 378.8L763.8 376.2L766.2 380.0L768.8 383.8L765.0 387.5L761.2 391.2L758.8 395.0L755.0 392.5L751.2 390.0Z" />
<path fill="#6a10e0" d="M762.5 377.0L766.2 380.0L769.0 384.0L766.2 386.2L763.8 382.5Z" />
<path fill="#4a18e8" d="M762.0 395.0L766.2 393.8L768.8 398.8L769.5 405.0L767.5 410.0L763.8 407.5L762.0 401.2Z" />
<path fill="#0860f6" d="M732.5 390.0L737.5 386.2L741.2 387.5L745.0 392.5L751.2 397.5L757.5 403.8L762.5 410.0L767.5 417.5L765.0 419.5L760.0 415.0L755.0 410.0L748.8 405.0L742.5 400.0L737.5 396.2Z" />
<path fill="#5a14e4" d="M738.8 386.2L742.0 388.0L745.5 393.0L749.5 397.0L747.0 398.0L742.5 393.8Z" />
<path fill="#4a14e4" d="M730.0 379.5L735.0 380.0L737.0 383.8L732.5 384.5Z" />
<path fill="#0474f9" d="M726.2 416.2L730.0 412.5L736.2 410.5L740.0 413.8L737.5 418.8L731.2 419.5Z" />
<path fill="#1680f4" d="M748.0 305.0L752.5 301.2L758.8 300.0L765.0 296.2L771.2 295.5L773.8 300.0L772.5 305.0L777.5 308.8L781.2 312.5L787.5 313.8L793.8 312.0L801.2 312.5L805.5 317.5L812.5 317.5L816.2 313.8L815.0 308.8L818.8 309.5L823.8 315.0L828.8 317.5L832.5 323.8L834.5 330.0L831.2 333.8L828.8 338.8L826.2 343.8L830.0 346.2L836.2 345.5L842.5 342.5L843.8 345.5L840.0 348.8L845.0 350.0L851.2 347.5L857.5 345.5L862.0 348.0L860.0 352.5L856.2 355.0L851.2 357.5L846.2 359.5L841.2 362.5L836.2 366.2L832.5 368.8L827.5 367.5L822.5 366.2L818.8 368.8L815.0 366.2L813.8 360.0L810.0 356.2L807.5 351.2L805.5 346.2L801.2 342.5L796.2 341.2L791.2 342.5L787.5 337.5L786.2 332.5L781.2 331.2L775.0 332.5L768.8 333.8L762.5 332.5L757.5 328.8L755.0 323.8L753.8 317.5L755.5 312.5L751.2 310.0Z" />
<clipPath id="cp9"><path d="M748.0 305.0L752.5 301.2L758.8 300.0L765.0 296.2L771.2 295.5L773.8 300.0L772.5 305.0L777.5 308.8L781.2 312.5L787.5 313.8L793.8 312.0L801.2 312.5L805.5 317.5L812.5 317.5L816.2 313.8L815.0 308.8L818.8 309.5L823.8 315.0L828.8 317.5L832.5 323.8L834.5 330.0L831.2 333.8L828.8 338.8L826.2 343.8L830.0 346.2L836.2 345.5L842.5 342.5L843.8 345.5L840.0 348.8L845.0 350.0L851.2 347.5L857.5 345.5L862.0 348.0L860.0 352.5L856.2 355.0L851.2 357.5L846.2 359.5L841.2 362.5L836.2 366.2L832.5 368.8L827.5 367.5L822.5 366.2L818.8 368.8L815.0 366.2L813.8 360.0L810.0 356.2L807.5 351.2L805.5 346.2L801.2 342.5L796.2 341.2L791.2 342.5L787.5 337.5L786.2 332.5L781.2 331.2L775.0 332.5L768.8 333.8L762.5 332.5L757.5 328.8L755.0 323.8L753.8 317.5L755.5 312.5L751.2 310.0Z"/></clipPath><g clip-path="url(#cp9)"><g filter="url(#bl4)">
<path fill="#20e4e0" d="M745.0 295.0L775.0 293.8L775.0 305.0L765.0 312.5L752.5 313.8L745.0 307.5Z" />
<path fill="#28b0f4" d="M805.0 312.5L835.0 315.0L835.0 340.0L815.0 345.0L807.5 330.0Z" />
<path fill="#0474f9" d="M815.0 352.5L862.5 343.8L862.5 360.0L835.0 370.0L815.0 370.0Z" />
</g></g>
<path fill="#fdfdfd" d="M770.0 321.2L775.0 318.0L781.2 319.5L780.0 323.8L773.8 325.0Z" />
<path fill="#fdfdfd" d="M788.8 318.8L793.0 320.0L793.8 325.0L790.0 323.8Z" />
<path fill="#0474f9" d="M860.0 362.5L862.5 356.2L867.5 353.8L873.8 352.0L880.0 349.5L883.8 353.8L882.5 360.0L878.8 365.0L875.0 368.8L870.0 370.0L866.2 372.5L862.0 371.2L858.8 367.5Z" />
<path fill="#fdfdfd" d="M867.5 357.5L872.5 355.5L876.2 358.0L873.8 362.5L868.8 363.0Z" />
<path fill="#0474f9" d="M812.0 370.0L815.0 367.0L819.5 368.0L820.5 372.5L817.5 376.2L812.5 378.0Z" />
<path fill="#0474f9" d="M797.0 385.0L800.0 381.2L805.5 382.0L807.5 386.2L815.0 383.8L822.5 380.0L828.8 377.5L833.8 375.0L836.2 380.0L834.5 386.2L838.8 387.5L837.5 392.5L833.8 395.0L835.0 401.2L840.0 405.0L843.8 410.0L845.0 415.0L850.0 412.5L856.2 408.8L862.5 405.0L867.5 402.5L870.0 397.5L867.5 393.8L862.5 392.5L857.5 390.0L859.5 385.0L863.8 381.2L868.8 381.2L872.5 385.0L876.2 380.0L880.0 375.0L886.2 371.2L892.5 368.8L897.5 365.0L902.5 366.2L903.8 372.5L906.2 376.2L912.5 380.0L916.2 385.0L918.0 391.2L918.8 397.5L923.8 396.2L927.5 398.8L926.2 403.0L921.2 403.8L916.2 406.2L912.5 410.0L907.5 413.8L903.8 418.8L905.0 425.0L910.0 427.5L916.2 430.0L921.2 432.5L918.8 438.8L915.0 445.0L912.5 452.5L907.5 450.0L902.5 446.2L897.5 442.5L892.5 443.8L887.5 447.5L882.5 452.5L877.5 455.0L873.8 452.5L870.0 447.5L866.2 442.5L861.2 440.0L856.2 443.8L851.2 446.2L847.5 452.5L845.0 457.5L842.5 452.5L841.2 446.2L836.2 442.5L830.0 440.0L825.0 436.2L820.0 440.0L815.0 442.5L812.5 447.5L808.8 445.0L805.5 440.0L801.2 435.0L796.2 431.2L791.2 427.5L787.5 422.5L781.2 416.2L777.5 412.5L776.2 408.8L780.0 408.0L785.0 411.2L790.0 415.0L796.2 417.5L801.2 420.0L802.5 415.0L798.8 410.0L795.0 405.0L791.2 401.2L788.8 398.8L793.8 397.0L798.8 400.0L802.5 403.8L805.5 402.5L803.8 397.5L800.0 393.8L797.5 390.0Z" />
<clipPath id="cp10"><path d="M797.0 385.0L800.0 381.2L805.5 382.0L807.5 386.2L815.0 383.8L822.5 380.0L828.8 377.5L833.8 375.0L836.2 380.0L834.5 386.2L838.8 387.5L837.5 392.5L833.8 395.0L835.0 401.2L840.0 405.0L843.8 410.0L845.0 415.0L850.0 412.5L856.2 408.8L862.5 405.0L867.5 402.5L870.0 397.5L867.5 393.8L862.5 392.5L857.5 390.0L859.5 385.0L863.8 381.2L868.8 381.2L872.5 385.0L876.2 380.0L880.0 375.0L886.2 371.2L892.5 368.8L897.5 365.0L902.5 366.2L903.8 372.5L906.2 376.2L912.5 380.0L916.2 385.0L918.0 391.2L918.8 397.5L923.8 396.2L927.5 398.8L926.2 403.0L921.2 403.8L916.2 406.2L912.5 410.0L907.5 413.8L903.8 418.8L905.0 425.0L910.0 427.5L916.2 430.0L921.2 432.5L918.8 438.8L915.0 445.0L912.5 452.5L907.5 450.0L902.5 446.2L897.5 442.5L892.5 443.8L887.5 447.5L882.5 452.5L877.5 455.0L873.8 452.5L870.0 447.5L866.2 442.5L861.2 440.0L856.2 443.8L851.2 446.2L847.5 452.5L845.0 457.5L842.5 452.5L841.2 446.2L836.2 442.5L830.0 440.0L825.0 436.2L820.0 440.0L815.0 442.5L812.5 447.5L808.8 445.0L805.5 440.0L801.2 435.0L796.2 431.2L791.2 427.5L787.5 422.5L781.2 416.2L777.5 412.5L776.2 408.8L780.0 408.0L785.0 411.2L790.0 415.0L796.2 417.5L801.2 420.0L802.5 415.0L798.8 410.0L795.0 405.0L791.2 401.2L788.8 398.8L793.8 397.0L798.8 400.0L802.5 403.8L805.5 402.5L803.8 397.5L800.0 393.8L797.5 390.0Z"/></clipPath><g clip-path="url(#cp10)"><g filter="url(#bl6)">
<path fill="#1e98f4" d="M875.0 375.0L900.0 365.0L915.0 380.0L920.0 397.5L910.0 410.0L890.0 410.0L877.5 397.5Z" />
</g></g>
<path fill="#fdfdfd" d="M881.2 417.5L885.0 415.0L889.5 417.0L887.5 420.5L883.0 420.5Z" />
<path fill="#fdfdfd" d="M901.2 395.0L905.0 395.0L905.0 399.5L901.2 399.5Z" />
<path fill="#fdfdfd" d="M860.0 428.8L863.0 428.8L863.0 433.8L860.0 433.8Z" />
<path fill="#fdfdfd" d="M820.0 391.2L826.2 390.0L827.5 394.5L822.5 396.2Z" />
<path fill="#30a8f4" d="M903.8 366.2L908.8 364.5L915.0 366.2L920.0 368.8L926.2 371.2L931.2 373.0L932.5 377.0L927.5 376.2L923.8 374.5L918.8 375.0L913.8 376.2L908.8 375.0L904.5 372.5Z" />
<path fill="#b4f040" d="M903.8 366.2L908.8 364.5L914.5 366.5L913.8 375.0L908.8 375.0L904.5 372.5Z" />
<path fill="#50e0c0" d="M903.0 373.0L907.5 374.5L907.0 378.0L903.0 377.0Z" />
<path fill="#0850f4" d="M922.5 413.8L927.0 410.5L932.0 411.2L933.8 415.0L938.8 414.5L942.5 417.0L940.0 420.0L935.0 419.5L931.2 422.5L926.2 420.0Z" />
<path fill="#4a14e8" d="M938.8 414.5L942.5 417.0L940.0 420.0L938.0 417.5Z" />
<path fill="#0474f9" d="M912.5 424.5L918.0 422.0L919.5 425.0L915.0 427.5Z" />
<path fill="#2a20e8" d="M918.8 427.5L922.5 427.5L922.5 431.2L918.8 431.2Z" />
<path fill="#3a18e8" d="M923.8 397.0L927.5 397.5L927.0 402.5L923.8 402.5Z" />
<path fill="#0474f9" d="M925.0 447.5L930.0 442.5L936.2 440.0L940.0 435.0L945.0 434.5L947.0 438.8L945.0 445.0L940.0 450.0L938.8 457.5L942.5 462.5L937.5 466.2L932.5 465.0L927.5 468.8L923.8 473.8L918.8 477.5L915.0 480.0L910.0 475.0L912.5 470.0L917.5 466.2L922.5 462.5L923.8 455.0Z" />
<path fill="#0474f9" d="M941.2 465.0L947.5 460.0L952.5 453.8L956.2 447.5L960.0 441.2L963.8 440.0L965.0 445.0L962.5 452.5L960.0 460.0L961.2 466.2L957.5 471.2L952.5 475.0L947.5 480.0L940.0 480.0L937.5 473.8L938.8 468.8Z" />
<path fill="#3a18e8" d="M969.5 457.5L972.5 456.2L973.8 460.0L971.2 462.5Z" />
<path fill="#3a18e8" d="M968.8 472.5L973.0 471.2L973.8 480.0L968.8 480.0Z" />
<path fill="#3a18e8" d="M853.8 342.0L857.0 342.0L857.0 345.5L853.8 345.5Z" />
<path fill="#0474f9" d="M740.0 420.9L743.4 418.4L748.4 417.5L753.4 419.2L759.2 420.1L764.2 420.9L767.6 423.4L770.1 427.6L773.4 430.9L778.4 433.4L782.6 435.9L786.8 437.6L790.1 440.1L793.4 443.4L796.8 448.4L800.1 454.3L803.5 460.1L805.1 465.1L805.1 496.9L801.8 499.4L796.8 500.2L793.4 496.9L790.1 494.3L785.9 496.0L781.8 498.5L777.6 501.0L775.1 505.2L770.9 506.9L766.7 505.2L767.6 501.9L770.9 499.4L773.4 494.3L774.2 488.5L770.9 485.2L767.6 481.8L765.1 476.8L764.2 471.8L761.7 467.6L757.5 464.3L754.2 460.1L753.4 455.1L755.0 450.1L754.2 445.1L751.7 440.1L748.4 435.9L745.9 431.7L745.0 426.7L741.7 424.2Z" />
<path fill="#0474f9" d="M730.0 390.0L736.7 390.0L741.7 395.0L746.7 400.0L753.4 405.9L760.1 411.7L765.9 417.5L766.7 420.1L761.7 420.1L755.0 415.0L748.4 410.0L741.7 404.2L735.8 399.2L730.0 395.0Z" />
<path fill="#0474f9" d="M730.0 409.2L735.0 410.9L740.0 415.0L744.2 419.2L740.0 420.9L735.0 416.7L730.0 415.0Z" />
<path fill="#0474f9" d="M775.4 410.0L779.3 408.0L783.4 410.9L786.8 415.0L790.9 417.5L794.3 420.9L798.5 422.6L803.5 421.7L805.1 421.7L805.1 440.1L801.8 438.4L799.3 440.9L795.9 439.3L792.6 436.7L788.4 434.2L785.1 430.1L783.4 425.9L781.8 420.9L779.3 416.7L776.7 413.4Z" />
<path fill="#0474f9" d="M788.4 400.9L791.8 398.0L795.9 398.3L800.1 402.5L804.3 406.7L805.1 411.7L801.0 410.0L796.8 407.5L792.6 405.0Z" />
<path fill="#0474f9" d="M806.0 462.6L810.1 461.0L815.1 461.8L820.2 463.5L825.2 464.3L830.2 465.1L835.2 467.6L840.2 466.8L845.2 467.6L850.2 466.8L856.9 465.1L861.9 463.5L865.2 462.6L868.6 466.0L871.9 467.6L876.9 468.5L881.9 470.1L886.9 471.8L890.3 469.3L894.5 467.6L897.8 470.1L900.3 473.5L902.0 477.7L898.6 480.2L894.5 479.3L891.1 481.0L887.8 485.2L883.6 490.2L880.3 494.3L876.9 498.5L873.6 501.0L868.6 500.2L863.6 499.4L858.6 498.5L853.5 499.4L848.5 498.5L843.5 497.7L839.4 496.9L835.2 498.5L830.2 500.2L825.2 499.4L821.0 497.7L816.8 498.5L811.8 499.4L803.5 498.5L803.5 463.5Z" />
<path fill="#fdfdfd" d="M824.3 478.5L827.7 476.0L831.8 477.7L836.0 480.2L838.5 483.5L836.9 488.5L833.5 492.7L830.2 493.5L831.0 489.3L829.3 485.2L826.8 481.8Z" />
<path fill="#fdfdfd" d="M855.2 475.1L858.6 472.6L862.7 471.5L865.2 473.5L862.7 476.8L858.6 478.5L855.6 477.7Z" />
<path fill="#fdfdfd" d="M869.4 479.3L873.6 478.2L877.8 479.3L880.3 481.8L877.8 486.0L874.4 488.5L871.1 486.0L869.4 482.7Z" />
<path fill="#fdfdfd" d="M813.5 483.5L816.8 483.5L816.8 487.7L813.5 487.7Z" />
<path fill="#fdfdfd" d="M789.3 475.5L792.1 475.5L792.1 478.2L789.3 478.2Z" />
<path fill="#0474f9" d="M909.5 468.5L912.8 465.1L917.0 461.8L923.0 460.1L927.0 463.5L927.0 476.8L918.7 475.1L914.5 474.3L911.1 472.6Z" />
<path fill="#0474f9" d="M903.6 483.5L908.6 481.0L913.7 480.2L918.7 481.8L923.0 481.0L930.3 483.5L930.3 496.9L917.0 496.0L912.0 496.9L907.0 495.2L903.6 490.2Z" />
<path fill="#fdfdfd" d="M913.7 487.7L917.8 486.8L918.7 490.2L915.0 491.5Z" />
<path fill="#0474f9" d="M816.0 450.1L820.2 447.6L826.8 447.6L828.5 452.6L830.2 458.5L827.7 461.5L823.5 459.3L819.3 455.9L816.8 453.4Z" />
<path fill="#0474f9" d="M807.1 448.4L811.0 447.6L811.8 451.8L808.5 453.4Z" />
<path fill="#0474f9" d="M735.5 472.5L740.0 468.8L746.2 466.2L751.2 468.0L753.8 472.5L751.2 476.2L747.5 480.0L743.8 477.5L739.5 475.5Z" />
<path fill="#2a20ec" d="M733.0 493.8L737.5 491.2L743.8 492.0L747.5 494.5L746.2 498.0L741.2 500.0L736.2 498.8L733.0 497.0Z" />
<path fill="#0474f9" d="M766.2 503.8L770.0 500.0L776.2 501.2L777.5 505.5L771.2 507.5Z" />
<path fill="#0474f9" d="M677.5 583.8L681.2 578.8L687.5 578.0L691.2 582.5L688.8 588.0L682.5 589.5L678.0 587.5Z" />
<path fill="#0474f9" d="M693.8 580.5L697.0 580.5L697.0 583.8L693.8 583.8Z" />
<path fill="#0474f9" d="M680.0 616.2L684.5 616.2L684.5 621.2L680.0 621.2Z" />
<path fill="#0474f9" d="M805.5 499.5L861.2 499.5L861.2 510.5L855.0 508.0L850.0 511.2L843.8 512.5L837.5 512.0L833.8 515.0L830.0 519.5L826.2 515.0L821.2 517.5L816.2 515.0L812.5 511.2L810.0 505.5L807.5 502.5Z" />
<path fill="#0474f9" d="M860.0 430.0L921.8 430.0L920.9 435.0L917.6 440.0L914.3 445.0L911.8 450.0L915.1 452.5L920.1 450.0L923.4 446.7L926.8 448.4L928.5 453.4L931.0 446.7L933.5 441.7L937.6 440.0L940.1 435.8L943.5 434.2L946.8 437.5L945.1 442.5L943.5 446.7L944.3 451.7L941.8 455.0L939.3 459.2L936.8 462.6L940.1 464.2L945.1 460.1L949.3 455.0L952.7 450.0L956.0 445.0L959.3 440.9L962.7 440.0L965.2 443.4L963.5 448.4L960.2 452.5L958.5 457.5L960.2 461.7L959.3 465.9L956.0 469.2L951.8 471.7L951.0 476.7L952.7 481.8L953.5 486.8L951.0 490.1L947.7 492.6L945.1 495.9L950.2 496.8L954.3 495.9L958.5 497.6L961.8 496.8L962.2 500.1L960.2 504.3L957.7 508.5L959.3 511.8L956.0 514.3L954.3 518.5L951.0 521.0L946.8 523.5L943.5 526.0L946.8 528.5L951.0 530.2L953.5 533.5L958.5 532.7L962.7 533.5L966.0 536.9L968.5 531.8L970.2 527.7L968.5 523.5L971.0 521.0L975.2 518.5L977.7 514.3L979.4 511.0L982.7 510.1L985.2 513.5L986.9 517.7L990.2 516.0L993.6 513.5L996.1 509.3L999.4 508.5L1001.1 503.5L1001.9 498.5L1005.3 495.9L1009.4 495.1L1012.8 497.6L1016.1 498.5L1020.3 499.3L1024.5 501.0L1025.3 504.3L1022.8 506.0L1025.3 508.5L1028.6 510.1L1032.0 513.5L1033.6 517.7L1032.8 522.7L1030.3 525.2L1027.0 524.3L1024.5 521.0L1021.9 521.8L1018.6 520.2L1016.9 516.8L1016.1 523.5L1016.9 530.2L1020.3 533.5L1025.3 534.3L1030.3 532.7L1034.5 530.2L1037.8 526.8L1041.1 527.7L1042.0 531.0L1047.0 530.2L1053.0 531.8L1053.0 563.1L860.0 563.1Z" />
<path fill="#0486f9" d="M745.0 640.0L742.5 633.8L740.0 628.8L736.2 623.8L732.5 618.8L725.0 615.0L717.5 613.8L711.2 615.0L706.2 618.8L702.0 618.0L703.8 613.8L708.8 611.2L711.2 606.2L707.0 602.5L708.0 597.5L705.5 592.5L704.5 588.0L708.8 585.0L715.0 583.8L721.2 583.0L725.0 586.2L729.5 585.0L730.5 580.0L728.0 573.8L729.5 568.8L733.8 566.2L735.0 561.2L738.8 557.5L743.8 556.2L747.0 560.0L747.5 566.2L751.2 570.0L755.0 575.0L751.2 578.8L747.5 582.5L751.2 584.5L757.5 583.0L763.8 582.0L768.8 580.0L772.5 575.0L776.2 570.0L781.2 565.0L787.5 563.8L791.2 565.0L786.2 568.8L782.5 572.5L785.0 575.0L790.0 572.5L795.0 570.0L800.0 565.0L797.5 561.2L795.0 557.5L798.8 553.8L800.0 547.5L798.8 540.0L798.0 533.8L803.8 532.0L810.0 532.0L816.2 533.8L821.2 536.2L826.2 540.0L827.5 545.0L825.0 550.0L828.8 552.5L832.5 547.5L836.2 542.5L837.5 538.8L842.5 536.2L847.5 536.2L849.5 540.0L846.2 543.8L852.5 546.2L860.0 545.0L866.2 547.5L871.2 550.0L873.8 553.8L878.8 552.5L886.2 551.2L892.5 550.0L900.0 552.5L907.5 556.2L912.5 561.2L917.5 565.0L922.5 562.5L923.2 563.8L929.5 557.5L935.8 556.2L942.0 560.0L947.0 557.5L953.2 562.5L959.5 565.0L965.8 566.2L968.2 560.0L967.0 552.5L969.5 545.0L968.2 537.5L970.8 530.0L974.5 523.8L978.2 517.5L980.8 512.5L984.5 511.2L987.0 516.2L992.0 518.8L997.0 515.0L1002.0 511.2L1005.8 515.0L1008.2 520.0L1012.0 525.0L1014.5 532.5L1016.5 540.0L1019.5 541.2L1025.8 538.8L1030.8 536.2L1035.8 531.2L1039.5 526.2L1043.2 528.8L1047.0 532.5L1052.0 531.2L1050.8 536.2L1053.2 540.0L1058.2 536.2L1064.5 532.5L1070.8 532.5L1077.0 533.8L1082.5 532.0L1085.8 527.5L1087.0 522.5L1084.5 517.5L1083.2 512.5L1087.0 508.8L1089.5 515.0L1093.2 520.0L1099.5 521.2L1107.0 522.5L1113.2 526.2L1117.0 531.2L1118.2 538.8L1120.8 547.5L1123.2 556.2L1127.0 565.0L1129.5 575.0L1132.0 585.0L1135.8 592.5L1138.2 601.2L1138.2 608.8L1136.5 617.5L1133.2 626.2L1129.5 633.8L1125.8 640.0L1123.2 646.2L1118.2 653.8L1113.2 660.0L1107.0 663.8L1100.8 668.0L1094.5 672.5L1088.2 676.2L1082.0 679.5L1075.8 681.2L1069.5 685.0L1064.5 690.0L1057.0 692.5L1049.5 694.5L1042.0 695.5L1034.5 697.0L1027.0 697.5L1022.0 695.0L1014.5 696.2L1007.0 697.5L999.5 699.5L992.0 698.8L984.5 698.8L980.8 693.8L975.8 690.0L969.5 693.8L963.2 695.5L957.0 692.5L949.5 694.5L942.0 695.5L934.5 697.5L927.0 700.0L920.8 698.8L914.5 697.5L912.0 693.8L904.5 687.5L894.5 685.0L884.5 683.8L874.5 680.0L867.0 673.8L862.5 676.2L855.0 678.8L848.8 677.5L845.0 671.2L840.0 668.8L836.2 670.0L830.0 673.8L822.5 672.5L816.2 671.2L811.2 667.5L806.2 663.8L805.5 657.5L802.5 653.8L796.2 655.0L790.0 655.0L785.0 651.2L780.0 647.5L773.8 648.8L768.8 650.0L762.5 648.0L755.0 647.0L748.8 644.5Z" />
<clipPath id="cpG"><path d="M745.0 640.0L742.5 633.8L740.0 628.8L736.2 623.8L732.5 618.8L725.0 615.0L717.5 613.8L711.2 615.0L706.2 618.8L702.0 618.0L703.8 613.8L708.8 611.2L711.2 606.2L707.0 602.5L708.0 597.5L705.5 592.5L704.5 588.0L708.8 585.0L715.0 583.8L721.2 583.0L725.0 586.2L729.5 585.0L730.5 580.0L728.0 573.8L729.5 568.8L733.8 566.2L735.0 561.2L738.8 557.5L743.8 556.2L747.0 560.0L747.5 566.2L751.2 570.0L755.0 575.0L751.2 578.8L747.5 582.5L751.2 584.5L757.5 583.0L763.8 582.0L768.8 580.0L772.5 575.0L776.2 570.0L781.2 565.0L787.5 563.8L791.2 565.0L786.2 568.8L782.5 572.5L785.0 575.0L790.0 572.5L795.0 570.0L800.0 565.0L797.5 561.2L795.0 557.5L798.8 553.8L800.0 547.5L798.8 540.0L798.0 533.8L803.8 532.0L810.0 532.0L816.2 533.8L821.2 536.2L826.2 540.0L827.5 545.0L825.0 550.0L828.8 552.5L832.5 547.5L836.2 542.5L837.5 538.8L842.5 536.2L847.5 536.2L849.5 540.0L846.2 543.8L852.5 546.2L860.0 545.0L866.2 547.5L871.2 550.0L873.8 553.8L878.8 552.5L886.2 551.2L892.5 550.0L900.0 552.5L907.5 556.2L912.5 561.2L917.5 565.0L922.5 562.5L923.2 563.8L929.5 557.5L935.8 556.2L942.0 560.0L947.0 557.5L953.2 562.5L959.5 565.0L965.8 566.2L968.2 560.0L967.0 552.5L969.5 545.0L968.2 537.5L970.8 530.0L974.5 523.8L978.2 517.5L980.8 512.5L984.5 511.2L987.0 516.2L992.0 518.8L997.0 515.0L1002.0 511.2L1005.8 515.0L1008.2 520.0L1012.0 525.0L1014.5 532.5L1016.5 540.0L1019.5 541.2L1025.8 538.8L1030.8 536.2L1035.8 531.2L1039.5 526.2L1043.2 528.8L1047.0 532.5L1052.0 531.2L1050.8 536.2L1053.2 540.0L1058.2 536.2L1064.5 532.5L1070.8 532.5L1077.0 533.8L1082.5 532.0L1085.8 527.5L1087.0 522.5L1084.5 517.5L1083.2 512.5L1087.0 508.8L1089.5 515.0L1093.2 520.0L1099.5 521.2L1107.0 522.5L1113.2 526.2L1117.0 531.2L1118.2 538.8L1120.8 547.5L1123.2 556.2L1127.0 565.0L1129.5 575.0L1132.0 585.0L1135.8 592.5L1138.2 601.2L1138.2 608.8L1136.5 617.5L1133.2 626.2L1129.5 633.8L1125.8 640.0L1123.2 646.2L1118.2 653.8L1113.2 660.0L1107.0 663.8L1100.8 668.0L1094.5 672.5L1088.2 676.2L1082.0 679.5L1075.8 681.2L1069.5 685.0L1064.5 690.0L1057.0 692.5L1049.5 694.5L1042.0 695.5L1034.5 697.0L1027.0 697.5L1022.0 695.0L1014.5 696.2L1007.0 697.5L999.5 699.5L992.0 698.8L984.5 698.8L980.8 693.8L975.8 690.0L969.5 693.8L963.2 695.5L957.0 692.5L949.5 694.5L942.0 695.5L934.5 697.5L927.0 700.0L920.8 698.8L914.5 697.5L912.0 693.8L904.5 687.5L894.5 685.0L884.5 683.8L874.5 680.0L867.0 673.8L862.5 676.2L855.0 678.8L848.8 677.5L845.0 671.2L840.0 668.8L836.2 670.0L830.0 673.8L822.5 672.5L816.2 671.2L811.2 667.5L806.2 663.8L805.5 657.5L802.5 653.8L796.2 655.0L790.0 655.0L785.0 651.2L780.0 647.5L773.8 648.8L768.8 650.0L762.5 648.0L755.0 647.0L748.8 644.5Z"/></clipPath><g clip-path="url(#cpG)">
<g filter="url(#bl8)">
<path fill="#0a74f4" d="M700.0 580.0L800.0 580.0L860.0 520.0L900.0 540.0L900.0 600.0L860.0 650.0L800.0 660.0L740.0 640.0Z" />
<path fill="#14a0f4" d="M1040.0 560.0L1100.0 540.0L1140.0 580.0L1140.0 660.0L1090.0 700.0L1040.0 690.0L1020.0 640.0Z" />
<path fill="#20b4f4" d="M1060.0 520.0L1110.0 520.0L1130.0 560.0L1100.0 580.0L1070.0 560.0Z" />
<path fill="#18a4f4" d="M960.0 670.0L1010.0 650.0L1040.0 680.0L1010.0 700.0L960.0 700.0Z" />
</g><g filter="url(#bl2)">
<ellipse cx="1047" cy="677" rx="10" ry="13" fill="none" stroke="#58e8c8" stroke-width="3.5" opacity=".9"/>
<path d="M1040 662C1060 645 1090 640 1118 634" fill="none" stroke="#38ccf0" stroke-width="6" opacity=".8"/>
<path d="M1056 630C1066 634 1074 636 1080 634" fill="none" stroke="#40d0f0" stroke-width="5" opacity=".7"/>
<path d="M972 692C985 678 1005 672 1018 686" fill="none" stroke="#30c8f0" stroke-width="9" opacity=".75"/>
<path d="M1062 630C1075 625 1090 620 1100 605" fill="none" stroke="#30c4f0" stroke-width="4" opacity=".6"/>
<path d="M1020 690C1030 694 1050 696 1070 688" fill="none" stroke="#38d0e8" stroke-width="6" opacity=".7"/>
</g>
<g filter="url(#bl2)"><path d="M1087.0 508.8L1089.5 515.0L1093.2 520.0L1099.5 521.2L1107.0 522.5L1113.2 526.2L1117.0 531.2L1118.2 538.8L1120.8 547.5L1123.2 556.2L1127.0 565.0L1129.5 575.0L1132.0 585.0L1135.8 592.5L1138.2 601.2L1138.2 608.8L1136.5 617.5L1133.2 626.2L1129.5 633.8L1125.8 640.0L1123.2 646.2L1118.2 653.8L1113.2 660.0L1107.0 663.8L1100.8 668.0L1094.5 672.5L1088.2 676.2L1082.0 679.5L1075.8 681.2L1069.5 685.0L1064.5 690.0" fill="none" stroke="#28c8f0" stroke-width="22" opacity=".7"/><path d="M1064.5 690.0L1057.0 692.5L1049.5 694.5L1042.0 695.5L1034.5 697.0L1027.0 697.5L1022.0 695.0L1014.5 696.2L1007.0 697.5L999.5 699.5L992.0 698.8L984.5 698.8L980.8 693.8L975.8 690.0L969.5 693.8L963.2 695.5L957.0 692.5L949.5 694.5L942.0 695.5L934.5 697.5L927.0 700.0L920.8 698.8" fill="none" stroke="#28c8f0" stroke-width="16" opacity=".7"/></g>
<g filter="url(#bl1)"><path d="M1087.0 508.8L1089.5 515.0L1093.2 520.0L1099.5 521.2L1107.0 522.5L1113.2 526.2L1117.0 531.2L1118.2 538.8L1120.8 547.5L1123.2 556.2L1127.0 565.0L1129.5 575.0L1132.0 585.0L1135.8 592.5L1138.2 601.2L1138.2 608.8L1136.5 617.5L1133.2 626.2L1129.5 633.8L1125.8 640.0L1123.2 646.2L1118.2 653.8L1113.2 660.0L1107.0 663.8L1100.8 668.0L1094.5 672.5L1088.2 676.2L1082.0 679.5L1075.8 681.2L1069.5 685.0L1064.5 690.0" fill="none" stroke="#50e8c0" stroke-width="11"/><path d="M1064.5 690.0L1057.0 692.5L1049.5 694.5L1042.0 695.5L1034.5 697.0L1027.0 697.5L1022.0 695.0L1014.5 696.2L1007.0 697.5L999.5 699.5L992.0 698.8L984.5 698.8L980.8 693.8L975.8 690.0L969.5 693.8L963.2 695.5L957.0 692.5L949.5 694.5L942.0 695.5L934.5 697.5L927.0 700.0L920.8 698.8" fill="none" stroke="#50e8c0" stroke-width="8"/>
<path d="M1087.0 508.8L1089.5 515.0L1093.2 520.0L1099.5 521.2L1107.0 522.5L1113.2 526.2L1117.0 531.2L1118.2 538.8L1120.8 547.5L1123.2 556.2L1127.0 565.0L1129.5 575.0L1132.0 585.0L1135.8 592.5L1138.2 601.2L1138.2 608.8L1136.5 617.5L1133.2 626.2L1129.5 633.8L1125.8 640.0L1123.2 646.2L1118.2 653.8L1113.2 660.0L1107.0 663.8L1100.8 668.0L1094.5 672.5L1088.2 676.2L1082.0 679.5L1075.8 681.2L1069.5 685.0L1064.5 690.0" fill="none" stroke="#e8f020" stroke-width="6"/><path d="M1064.5 690.0L1057.0 692.5L1049.5 694.5L1042.0 695.5L1034.5 697.0L1027.0 697.5L1022.0 695.0L1014.5 696.2L1007.0 697.5L999.5 699.5L992.0 698.8L984.5 698.8L980.8 693.8L975.8 690.0L969.5 693.8L963.2 695.5L957.0 692.5L949.5 694.5L942.0 695.5L934.5 697.5L927.0 700.0L920.8 698.8" fill="none" stroke="#e8f020" stroke-width="4.5"/>
<path d="M748.8 644.5L745.0 640.0L742.5 633.8L740.0 628.8L736.2 623.8L732.5 618.8" fill="none" stroke="#50e8c0" stroke-width="7"/><path d="M748.8 644.5L745.0 640.0L742.5 633.8L740.0 628.8L736.2 623.8L732.5 618.8" fill="none" stroke="#d8f030" stroke-width="3.5"/></g>
<g filter="url(#bl3)"><ellipse cx="1098" cy="535" rx="13" ry="17" fill="#d8f030"/><ellipse cx="1112" cy="550" rx="6" ry="22" fill="#f4e818"/></g>
</g>
<path fill="#fdfdfd" d="M824.5 568.8L828.8 565.0L833.8 563.8L831.2 568.8L826.2 570.5Z" />
<path fill="#fdfdfd" d="M829.5 576.2L833.8 578.8L840.0 577.0L841.2 578.8L836.2 583.0L831.2 583.8L828.8 580.0Z" />
<path fill="#fdfdfd" d="M851.2 567.5L856.2 564.5L862.5 563.8L868.8 562.5L873.8 560.0L872.5 565.0L865.0 568.0L860.0 571.2L854.5 570.5Z" />
<path fill="#fdfdfd" d="M775.0 587.5L777.5 586.2L777.0 592.5L778.0 600.0L776.2 605.5L772.5 606.2L772.0 600.0L773.8 593.8Z" />
<path fill="#fdfdfd" d="M737.5 561.8L743.8 561.8L743.8 565.0L737.5 565.0Z" />
<path fill="#fdfdfd" d="M840.0 550.0L843.8 548.0L845.5 551.2L842.0 553.0Z" />
<path fill="#fdfdfd" d="M851.2 550.0L855.5 549.0L856.2 552.5L852.5 553.8Z" />
<path fill="#fdfdfd" d="M1057.0 567.5L1063.2 565.0L1069.5 567.5L1075.8 566.2L1082.0 563.8L1088.2 560.0L1089.5 565.0L1085.8 572.5L1079.5 577.5L1073.2 580.0L1069.5 585.0L1065.8 590.0L1060.8 592.5L1057.0 600.0L1055.0 596.2L1056.5 590.0L1060.8 585.0L1058.2 577.5L1056.5 572.5Z" />
<path fill="#fdfdfd" d="M1044.5 546.2L1050.8 543.0L1058.2 543.8L1064.5 546.2L1059.5 551.2L1053.2 552.5L1047.0 551.2Z" />
<path fill="#fdfdfd" d="M1047.5 558.8L1053.2 556.2L1057.0 560.0L1053.2 564.5L1049.0 563.8Z" />
<path fill="#fdfdfd" d="M1093.2 573.8L1099.5 572.0L1107.0 572.5L1108.2 576.2L1102.0 577.5L1095.8 577.0Z" />
<path fill="#fdfdfd" d="M1117.0 590.0L1122.0 586.2L1128.2 587.5L1127.0 592.5L1122.0 595.0L1117.5 595.5Z" />
<path fill="#fdfdfd" d="M1118.2 610.0L1124.5 608.0L1134.5 607.5L1135.8 613.8L1132.0 617.5L1124.5 618.0L1119.0 616.2Z" />
<path fill="#fdfdfd" d="M1090.0 546.2L1093.2 545.0L1094.5 551.2L1090.8 552.5Z" />
<path fill="#fdfdfd" d="M1017.0 580.0L1023.2 577.5L1027.0 580.5L1022.0 583.8Z" />
<path fill="#fdfdfd" d="M989.5 587.5L997.0 585.0L1002.0 587.0L995.8 590.0Z" />
<path fill="#fdfdfd" d="M978.2 677.5L987.0 678.0L993.2 680.0L998.2 681.2L997.0 683.8L989.5 683.0L982.0 685.0L979.5 682.5Z" />
<path fill="#fdfdfd" d="M1024.0 694.5L1030.8 692.5L1037.0 693.8L1033.2 697.0L1025.8 697.5Z" />
<path fill="#f0f040" d="M933.2 610.5L942.0 610.5L942.0 612.5L933.2 612.5Z" />
<path fill="#3a18e8" d="M1016.1 498.5L1020.3 499.3L1024.5 501.0L1025.3 504.3L1022.8 506.0L1018.6 503.5Z" />
<path fill="#2a28ec" d="M1027.0 511.0L1032.0 513.5L1033.6 517.7L1032.8 522.7L1030.3 525.2L1029.5 518.5Z" />
<path fill="#2a28ec" d="M960.2 440.0L963.5 440.0L965.2 444.2L962.7 446.7Z" />
<path fill="#1a30ee" d="M970.2 456.7L972.7 455.9L973.9 459.2L971.5 462.6L969.4 460.9Z" />
<path fill="#1a30ee" d="M968.5 471.7L971.9 470.1L974.9 472.6L973.5 478.4L970.2 479.3L968.2 475.9Z" />
<path fill="#0474f9" d="M994.4 492.6L997.7 490.9L1001.1 493.4L1000.2 497.6L996.9 498.5Z" />
<path fill="#0474f9" d="M981.0 503.5L983.9 503.5L983.9 507.6L981.0 507.6Z" />
<path fill="#0474f9" d="M956.8 487.6L961.8 488.4L966.9 491.8L964.3 494.3L960.2 490.9Z" />
<path fill="#fdfdfd" d="M869.2 459.2L873.4 457.5L878.4 459.2L883.4 456.7L887.5 455.0L890.1 457.5L888.4 461.7L883.4 462.6L878.4 462.6L873.4 462.6L870.0 461.7Z" />
<path fill="#fdfdfd" d="M865.8 465.9L870.0 464.2L875.9 465.9L880.0 468.4L884.2 472.6L880.0 473.7L875.9 471.7L870.0 470.9L866.7 469.2Z" />
<path fill="#fdfdfd" d="M870.0 480.1L874.2 478.1L879.2 479.3L885.0 481.8L886.7 485.9L882.5 487.6L877.5 486.8L873.4 485.9L870.4 483.4Z" />
<path fill="#fdfdfd" d="M892.6 455.0L897.6 452.5L903.4 453.4L908.4 457.5L910.1 463.4L909.3 468.4L911.8 473.4L908.4 477.6L903.7 478.4L900.1 475.1L897.6 470.9L893.4 467.6L890.9 463.4L889.2 459.2Z" />
<path fill="#fdfdfd" d="M914.3 487.6L918.4 485.9L922.6 488.4L926.8 490.9L931.8 493.4L933.5 496.8L929.3 498.5L924.3 496.8L919.3 495.1L915.9 492.6Z" />
<path fill="#fdfdfd" d="M930.1 456.7L933.5 455.0L936.0 461.7L933.5 468.4L931.0 463.4Z" />
<path fill="#fdfdfd" d="M926.8 468.4L930.1 467.6L931.0 475.1L927.6 475.9Z" />
<path fill="#fdfdfd" d="M910.1 445.0L914.3 444.2L912.6 450.0L909.8 449.2Z" />
<path fill="#fdfdfd" d="M871.3 502.5L876.3 501.3L881.3 501.9L887.0 501.3L892.6 501.9L897.6 501.3L902.6 502.5L903.3 506.3L904.5 509.4L903.3 512.5L900.1 513.2L896.4 513.8L892.6 512.5L888.8 513.8L885.1 515.1L881.3 516.3L877.6 515.7L873.8 516.3L870.7 515.7L867.5 514.4L868.8 511.3L870.7 507.5L870.0 504.4Z" />
<path fill="#fdfdfd" d="M860.0 513.8L863.8 515.1L866.9 517.6L868.8 521.3L871.9 524.5L876.3 525.1L880.7 524.5L885.1 525.1L888.8 527.0L890.7 529.5L888.2 531.4L885.1 532.9L882.0 532.0L878.8 531.4L875.1 532.0L872.5 534.5L871.3 538.3L870.7 542.0L871.9 545.8L869.4 547.7L866.3 543.9L863.8 543.3L861.9 545.2L860.0 546.4Z" />
<path fill="#fdfdfd" d="M884.5 535.7L887.0 533.2L890.7 532.9L894.5 533.9L897.6 535.7L900.1 538.9L902.0 542.6L904.5 544.5L908.3 545.2L912.1 544.5L915.2 542.0L917.7 538.9L920.2 536.4L922.7 534.5L924.6 532.0L922.7 528.2L922.1 525.7L924.6 526.3L926.5 529.5L927.7 532.6L925.9 535.7L923.3 538.3L920.8 540.8L918.3 543.9L916.4 547.0L915.8 550.8L916.4 553.9L919.6 555.2L924.0 555.2L927.1 553.3L928.4 550.2L931.5 549.5L935.3 548.3L939.0 549.5L942.2 552.1L945.3 553.9L946.5 556.4L943.4 558.3L939.6 559.0L936.5 560.2L933.4 562.1L929.6 562.7L926.5 561.5L924.0 559.6L922.1 561.5L922.7 564.6L920.2 567.1L917.1 566.5L915.2 563.3L913.3 560.2L912.1 559.0L910.2 561.5L907.7 562.1L904.5 559.0L902.0 556.4L898.9 553.3L895.7 551.4L892.6 550.8L890.1 552.1L888.8 548.9L889.5 545.2L888.2 542.0L885.7 538.9Z" />
<path fill="#fdfdfd" d="M860.0 558.3L863.8 557.1L867.5 555.2L871.9 553.9L876.3 553.3L880.7 553.3L883.2 555.2L880.7 557.7L876.9 559.6L873.2 561.5L870.0 564.0L866.9 565.9L863.8 568.4L861.3 571.5L860.0 572.1Z" />
<path fill="#fdfdfd" d="M903.9 513.8L907.0 516.3L909.5 519.4L913.3 520.7L915.2 523.2L914.6 526.3L911.4 527.0L910.2 523.8L908.3 520.7L905.8 518.2Z" />
<path fill="#fdfdfd" d="M922.1 501.9L926.5 501.3L930.2 502.5L934.0 501.9L935.3 505.6L937.1 508.8L934.6 511.3L932.1 515.1L929.6 513.8L929.0 510.0L926.5 506.9L923.3 505.0Z" />
<path fill="#fdfdfd" d="M961.6 501.9L966.6 501.3L972.9 501.5L977.9 501.9L980.4 503.8L978.5 507.5L977.9 511.3L976.0 516.3L973.5 520.1L970.4 522.0L969.1 525.7L971.0 529.5L969.8 532.6L966.6 533.2L963.5 532.0L960.3 533.2L957.2 535.1L954.1 533.9L950.9 535.7L947.8 534.5L945.3 536.4L942.2 538.9L939.0 538.3L939.6 534.5L942.8 533.9L945.3 532.0L943.4 528.8L940.9 527.0L944.0 525.1L947.8 523.8L951.6 522.0L955.3 520.7L958.5 518.8L960.3 515.1L959.1 511.9L957.2 509.4L959.1 506.3Z" />
<path fill="#fdfdfd" d="M946.5 548.3L950.3 547.7L953.4 549.5L955.3 552.7L954.1 556.4L952.2 559.6L952.8 562.7L956.6 563.3L960.3 565.2L964.1 566.5L967.2 565.9L967.9 562.1L966.6 558.3L966.0 554.6L964.7 550.2L965.4 545.8L967.2 542.0L968.5 537.6L966.6 537.0L964.1 540.1L962.2 543.9L959.1 545.8L956.0 547.0L952.8 546.4L949.7 546.7Z" />
<path fill="#fdfdfd" d="M977.3 560.2L979.8 556.4L983.6 555.2L986.1 557.7L985.4 562.1L984.2 566.5L984.8 571.5L987.3 574.0L987.9 577.1L985.4 580.3L982.3 580.9L978.5 579.0L975.4 576.5L974.4 574.0L977.3 573.4L979.8 571.5L979.2 567.1L977.9 564.0Z" />
<path fill="#fdfdfd" d="M994.2 558.3L998.0 557.7L1002.4 559.0L1005.0 558.3L1005.0 561.5L1001.7 562.7L1004.2 564.6L1003.0 567.7L999.9 569.6L996.7 568.4L994.8 566.5L997.3 564.0L995.5 561.5Z" />
<path fill="#fdfdfd" d="M981.0 503.8L984.2 503.1L984.8 506.9L987.9 510.0L991.1 512.5L993.0 515.1L990.4 517.6L987.3 518.8L985.4 516.3L983.6 513.2L981.7 510.0Z" />
<path fill="#fdfdfd" d="M1000.5 501.9L1005.0 501.3L1005.0 507.5L1002.4 506.3Z" />
<path fill="#fdfdfd" d="M944.0 503.1L947.8 504.4L951.6 505.0L954.1 507.5L953.4 511.9L950.3 512.5L947.8 510.7L945.9 507.5Z" />
<path fill="#f04010" d="M982.9 582.2L985.4 582.2L985.4 585.9L982.9 585.9Z" />
<path fill="#c01010" d="M950.1 593.1L952.8 593.1L952.8 595.6L950.1 595.6Z" />
<path fill="#fdfdfd" d="M815.0 505.5L818.8 505.5L818.8 508.8L815.0 508.8Z" />
<path fill="#fdfdfd" d="M824.5 512.5L827.5 512.5L827.5 515.0L824.5 515.0Z" />
<path fill="#fdfdfd" d="M857.5 502.5L861.2 501.2L862.0 505.5L858.8 507.0Z" />
<path fill="#0474f9" d="M582.5 578.8L587.5 576.2L590.0 570.0L596.2 566.2L602.5 563.8L607.5 561.2L613.8 565.0L615.0 568.8L620.5 568.8L618.8 573.0L611.2 574.5L605.0 576.2L601.2 580.0L597.5 581.2L595.0 586.2L593.0 592.5L588.8 593.8L586.2 590.0L588.8 585.0L585.0 582.5Z" />
<path fill="#1a80f5" d="M582.5 578.8L587.5 576.2L590.0 570.0L593.8 573.8L592.5 582.5L593.0 592.5L588.8 593.8L586.2 590.0L588.8 585.0L585.0 582.5Z" />
<path fill="#0a5cf5" d="M597.0 585.5L600.5 585.5L600.5 591.2L599.5 596.2L597.0 595.0Z" />
<path fill="#1a88f5" d="M562.0 588.8L565.0 586.2L569.5 586.2L570.0 591.2L568.8 597.0L563.8 598.0L561.2 593.8Z" />
<path fill="#1a90f4" d="M629.5 600.0L633.8 597.0L638.8 595.0L641.2 591.2L643.8 591.2L644.5 597.5L646.2 592.0L648.8 593.8L650.0 597.5L653.8 594.5L657.0 595.0L655.0 599.5L651.2 603.8L645.0 606.2L637.5 605.5L632.5 603.8Z" />
<clipPath id="cp12"><path d="M629.5 600.0L633.8 597.0L638.8 595.0L641.2 591.2L643.8 591.2L644.5 597.5L646.2 592.0L648.8 593.8L650.0 597.5L653.8 594.5L657.0 595.0L655.0 599.5L651.2 603.8L645.0 606.2L637.5 605.5L632.5 603.8Z"/></clipPath><g clip-path="url(#cp12)"><g filter="url(#bl2)">
<path fill="#40e0d0" d="M627.5 599.5L657.5 598.0L657.5 607.5L627.5 607.5Z" />
<path fill="#e8f020" d="M628.8 603.0L656.2 602.0L656.2 608.0L628.8 608.0Z" />
</g></g>
<path fill="#30b8f0" d="M670.0 593.0L674.0 592.0L675.0 596.2L671.2 598.0Z" />
<path fill="#30a8f4" d="M640.0 595.0L645.0 591.2L651.2 592.5L656.2 595.0L652.5 600.0L647.5 603.8L640.0 606.2Z" />
<clipPath id="cp13"><path d="M640.0 595.0L645.0 591.2L651.2 592.5L656.2 595.0L652.5 600.0L647.5 603.8L640.0 606.2Z"/></clipPath><g clip-path="url(#cp13)"><g filter="url(#bl2)">
<path fill="#e8f020" d="M640.0 603.0L650.0 601.2L650.0 607.5L640.0 607.5Z" />
</g></g>
<path fill="#38b0f4" d="M669.5 592.5L673.8 590.5L675.0 594.5L671.2 596.2Z" />
<path fill="#30b0f4" d="M766.2 651.2L772.5 650.0L780.0 651.2L783.8 655.0L780.0 658.8L773.8 660.5L768.8 657.5Z" />
<path fill="#fdfdfd" d="M770.0 653.0L775.0 652.5L776.2 655.5L772.0 656.2Z" />
<path fill="#50d8d8" d="M770.0 663.8L776.2 659.5L778.0 663.8L773.8 667.5Z" />
<path fill="#f0e020" d="M778.8 666.2L783.8 662.5L790.0 662.0L796.2 665.0L801.2 668.8L805.5 673.0L802.5 673.0L797.5 669.5L792.5 667.0L786.2 665.5L781.2 667.5Z" />
<path fill="#40c8e8" d="M806.2 666.2L812.5 665.0L815.0 668.8L810.0 670.5Z" />
<path fill="#60e0c0" d="M812.5 673.0L818.8 671.2L822.5 673.8L816.2 676.2Z" />
<path fill="#30a8f4" d="M818.8 681.2L826.2 678.0L833.8 678.0L831.2 682.0L825.0 684.5L820.0 683.8Z" />
<path fill="#40c8e8" d="M851.2 683.8L856.2 682.5L857.5 686.2L852.5 687.5Z" />
<path fill="#30a8f4" d="M890.0 695.5L896.2 693.0L901.2 695.0L902.5 699.5L895.0 700.0L890.0 698.8Z" />
<path fill="#0474f9" d="M132.2 733.6L135.6 728.8L141.9 728.1L141.9 730.9L138.4 735.0L134.2 735.7Z" />
<clipPath id="cp14"><path d="M318.2 307.6L319.5 303.8L323.9 300.7L331.4 300.1L337.7 300.7L339.5 303.8L340.2 307.0L343.9 309.5L347.7 308.2L350.2 309.5L352.1 306.3L353.3 303.8L357.7 301.9L362.8 300.7L367.8 300.7L371.5 301.9L370.9 305.1L369.0 308.2L367.8 312.6L366.5 317.0L364.0 319.5L359.0 320.1L355.2 317.9L353.3 314.5L351.5 312.0L347.7 313.2L343.3 313.8L340.2 312.8L337.0 314.9L333.9 313.2L331.4 312.0L327.6 312.0L323.9 312.8L320.7 311.3Z"/></clipPath><g clip-path="url(#cp14)"><g filter="url(#bl2)">
<path fill="#30a0f4" d="M317.6 302.6L337.7 301.3L338.9 315.1L317.6 315.1Z" />
<path fill="#20e8f0" d="M321.4 308.2L327.6 306.3L332.6 308.2L332.0 312.0L325.1 313.2L321.4 312.0Z" />
</g></g>
<path fill="#20d0f0" d="M326.4 317.9L330.8 317.0L331.1 319.9L327.0 320.7Z" />
<clipPath id="cp15"><path d="M301.3 244.5L303.2 240.1L307.6 237.0L312.6 235.1L316.3 237.0L319.9 239.5L319.5 242.0L315.1 243.2L310.7 244.5L308.8 247.0L310.1 251.4L313.2 252.6L317.0 252.6L321.4 250.7L326.4 247.9L332.6 247.0L336.7 244.1L338.9 247.9L338.3 250.7L335.2 252.6L332.0 256.4L328.9 259.5L327.6 263.7L325.4 263.3L325.7 259.5L322.9 257.6L320.1 258.3L317.8 255.8L313.2 255.8L309.4 254.5L306.3 251.4L304.8 248.9L301.9 247.9Z"/></clipPath><g clip-path="url(#cp15)"><g filter="url(#bl2)">
<path fill="#30b8f0" d="M300.0 237.6L308.8 237.6L308.8 256.4L315.1 257.0L315.1 258.9L300.0 256.4Z" />
<path fill="#40e8f0" d="M305.7 248.9L308.8 250.1L312.0 253.9L310.1 255.8L306.9 253.3Z" />
</g></g>
<path fill="#e8e820" d="M881.2 699.5L887.5 697.5L892.5 701.2L900.0 703.8L907.5 705.0L915.0 703.8L922.5 702.0L931.2 701.0L930.0 704.5L922.5 706.2L912.5 708.8L902.5 708.8L895.0 706.2L887.5 704.5Z" />
<clipPath id="cp16"><path d="M881.2 699.5L887.5 697.5L892.5 701.2L900.0 703.8L907.5 705.0L915.0 703.8L922.5 702.0L931.2 701.0L930.0 704.5L922.5 706.2L912.5 708.8L902.5 708.8L895.0 706.2L887.5 704.5Z"/></clipPath><g clip-path="url(#cp16)"><g filter="url(#bl1)">
<path fill="#30b8f0" d="M880.0 696.2L940.0 693.8L940.0 699.5L915.0 702.0L900.0 702.0L890.0 699.5L880.0 699.5Z" />
<path fill="#60e8b0" d="M880.0 699.5L890.0 699.5L900.0 702.0L915.0 702.0L940.0 699.5L940.0 701.0L915.0 703.5L900.0 703.5L890.0 701.5L880.0 701.5Z" />
</g></g>
<path fill="#fdfdfd" d="M858.6 445.1L861.9 440.4L866.1 442.1L868.6 447.9L871.9 452.1L876.9 455.4L881.9 453.8L886.9 451.3L892.8 447.1L898.6 443.8L903.6 447.1L907.0 452.1L912.0 452.9L915.3 447.1L918.7 442.1L923.0 437.1L923.0 459.8L917.0 462.1L912.8 465.5L909.5 468.8L907.0 473.5L902.0 477.3L900.3 473.1L897.8 469.8L894.5 467.3L890.3 469.0L886.9 471.5L881.9 469.8L876.9 468.1L871.9 467.3L868.6 465.6L865.2 462.3L861.9 463.1L858.6 463.5Z" />
</g>
<path class="c" d="M404.0 138.8L397.5 137.5L390.0 140.0L386.2 141.2L377.5 143.0L370.0 144.5L366.2 147.0L367.5 151.2L370.0 156.2L368.8 161.2L365.0 166.2L362.5 170.0L358.8 176.2L354.5 183.8L350.0 190.0L346.2 194.5L341.2 200.0L336.2 206.2L331.2 212.5L326.2 217.5L321.2 222.0L315.0 226.2L308.8 230.5L302.5 235.0L296.2 240.0L291.2 245.0L287.5 250.0L288.8 252.5L295.0 253.0L298.8 255.0L300.0 258.8L297.5 262.5L298.8 267.5L296.2 272.5L298.8 277.5L295.0 280.0L291.2 283.8L293.8 286.2L292.5 292.5L291.2 300.0M322.5 165.5L325.0 162.0L330.0 160.0L334.5 162.0L337.5 165.5L338.8 170.0L342.5 173.8L345.0 177.5L344.5 181.2L348.8 185.0L351.2 187.5L348.8 191.2L346.2 193.8L343.8 188.8L341.2 182.5L337.5 178.8L332.5 175.0L327.5 172.5L323.8 169.5ZM331.2 162.5L335.0 163.8L336.2 168.8L333.8 167.5ZM290.0 217.5L292.5 220.0L293.8 227.5L296.2 233.8L297.5 238.8L292.5 243.8L288.8 247.0L286.2 243.8L287.5 235.0L288.8 226.2ZM301.2 227.5L305.0 223.8L310.0 222.0L312.5 217.5L316.2 215.5L318.8 219.5L315.0 223.8L311.2 227.5L306.2 231.2L302.5 232.0ZM321.2 217.5L323.8 210.0L325.5 213.8L323.8 219.5M358.8 166.2L362.5 168.8M386.2 136.2L387.0 141.2M295.0 253.0L300.0 254.5L301.2 257.5L298.8 257.0M291.2 300.0L290.0 305.0L288.0 312.5L287.0 317.5L285.0 320.0L280.0 319.5L272.5 319.5L265.0 320.0L258.8 321.2L253.8 323.0L248.8 326.2L245.0 330.0L241.2 336.2L237.5 342.5L233.8 348.8L230.0 355.0L226.2 360.0L222.5 365.0L220.0 368.8L219.5 375.0L221.2 380.0L220.5 385.0L221.2 392.5L222.0 400.0L220.0 407.5L218.0 415.0L216.2 420.0L215.8 427.5L216.2 435.0L217.0 442.5L218.2 447.5L216.2 453.8L211.2 458.8L208.8 462.5L205.0 459.5L198.8 458.0L191.2 458.8L185.0 460.5L181.2 463.8L179.5 468.8L177.5 473.8L175.0 478.0L172.0 480.0M293.0 280.0L293.8 283.8L292.0 287.5L291.5 295.0L291.2 300.0M291.2 283.8L295.0 284.5M235.0 305.0L240.0 302.5L246.2 301.2L251.2 302.0L252.0 305.0L248.8 307.5L247.5 312.5L251.2 316.2L255.0 317.5L255.5 321.2M235.0 305.0L236.2 311.2L238.8 316.2L241.2 320.0L240.0 325.0L235.0 327.5L230.0 328.8L226.2 327.5L228.8 331.2L232.5 333.8L237.5 332.5L242.5 331.2L245.0 330.0M238.8 318.8L242.5 321.2L241.2 323.8M228.8 340.0L230.0 345.0L228.0 350.0L229.5 353.8M226.2 346.2L230.5 338.8L233.8 336.2L240.0 333.8M232.5 328.8L237.5 327.5L242.5 325.5L247.5 323.8L253.8 323.0M285.0 320.0L287.5 317.5L286.2 321.2M172.0 480.0L169.5 485.0L170.5 490.0L168.8 495.0L167.0 498.8L168.0 505.0L168.8 512.5L168.2 520.0L168.8 527.5L168.0 531.2L161.2 530.0L156.2 532.5L153.8 536.2L150.0 538.8L148.8 545.0L143.8 545.5L140.0 547.5L137.0 552.5L134.5 556.2L130.0 558.8M130.0 558.8L126.2 561.2L130.0 562.0L135.0 558.8L140.0 556.2L145.0 554.5L150.0 556.2L153.8 557.5L156.2 561.2L158.8 566.2L160.0 571.2L157.5 575.0L161.2 578.8L165.0 582.5L168.8 586.2L172.5 590.0L175.5 593.8L176.2 597.5L178.8 602.5L179.5 608.8L177.5 612.5L174.5 615.0L175.0 620.0L177.5 625.0L180.5 630.0L182.5 635.0L183.8 640.0L187.5 645.0L192.5 650.0L197.5 653.8L205.0 657.5L212.5 661.2L220.0 665.0L227.5 668.8L231.2 670.0M128.8 557.5L132.5 555.0L137.5 553.8L142.5 552.5L146.2 554.5M175.5 600.0L177.5 605.0L178.8 611.2L175.0 613.8L176.2 621.2L178.8 627.5L181.2 635.0L185.0 641.2L190.0 646.2L195.0 651.2L201.2 655.5L207.5 659.5L215.0 663.0L222.5 666.2L230.0 669.5L237.5 672.5L245.0 675.0L250.0 674.5L253.8 678.0L257.5 678.8L265.0 678.0L272.5 680.0L280.0 682.0L287.5 683.0L295.0 685.0L302.5 686.2L310.0 687.0L317.5 687.0L325.0 686.2L330.0 683.8L333.8 679.5L338.8 681.2L345.0 684.5L352.5 686.2L361.2 688.0L370.0 690.5L377.5 692.0L385.5 692.5L392.5 692.0L400.0 690.5L406.2 687.5L410.0 683.8L413.0 677.5L413.8 672.5L412.0 668.8L416.2 666.2L422.5 663.8L430.0 660.0L437.5 656.2L445.0 651.2L452.5 646.2L459.0 643.0M253.8 678.0L251.2 682.5L249.5 686.2L251.2 690.0L248.8 693.8L246.2 697.5L243.8 699.5M250.0 674.5L249.5 679.5L247.5 683.8L248.0 687.5L246.2 691.2L244.5 695.0L242.5 698.0M170.0 701.2L175.0 696.2L182.5 693.8L191.2 693.0L198.8 694.5L205.0 696.2L210.0 698.8L213.8 701.2L217.5 703.0L223.8 702.0L228.8 703.0L232.5 705.0L237.5 702.5L243.8 700.0L247.5 703.8L252.5 707.5L257.5 711.2L262.5 714.5L266.2 717.5L268.8 721.2L270.0 725.0L275.0 723.8L281.2 722.5L287.5 723.0L293.8 722.0L300.0 724.5L306.2 723.8L311.2 725.0L312.0 728.0L308.8 730.0L303.8 728.0L297.5 728.8L291.2 730.0L285.0 731.2L280.0 728.8L275.0 730.0L270.0 732.5L263.8 733.8L257.5 735.0L250.0 736.2L243.8 736.2L238.8 738.8L233.8 742.5L230.0 746.2L232.5 750.0L237.5 752.5L242.5 754.5L248.8 753.8L253.8 755.5L256.2 758.0L252.5 760.0L250.0 763.8L243.8 765.0L237.5 763.8L231.2 762.0L225.0 762.5L221.2 764.5L216.2 762.5L210.0 760.5L202.5 760.0L195.0 759.5L187.5 761.2L180.0 762.5L173.8 763.8L170.0 765.0M212.5 692.5L214.5 696.2L216.2 700.0L213.8 698.8L212.5 692.5M245.0 713.8L250.0 712.5L253.8 715.5L251.2 717.5M247.5 709.5L251.2 710.0M261.2 714.5L264.5 717.5L266.2 720.0L263.8 719.5M211.2 743.8L213.8 745.0L212.5 749.5L211.2 743.8M175.5 699.7L173.0 703.2L169.6 703.9L166.8 702.5L164.0 700.4L159.9 699.7L155.7 699.4L151.6 700.8L146.7 701.8L142.6 702.5L139.8 705.2L138.4 709.4L137.0 713.5L135.6 717.0L132.9 719.8L129.4 722.6L127.3 726.0L124.5 729.5L121.8 732.3L119.0 734.3L116.2 737.1M141.9 737.8L144.6 735.0L149.5 733.6L154.3 735.0L157.8 737.1L155.7 739.2L151.6 741.3L146.7 743.3L143.9 741.9L142.1 739.9ZM154.1 750.3L157.1 748.2L161.9 747.5L166.8 748.2L171.6 749.6L175.1 751.0L177.2 753.0L176.5 755.8L174.4 757.9L171.0 759.3L168.9 761.3L171.6 764.8L175.1 762.7M168.9 761.3L165.4 762.0L162.6 761.3L160.6 762.7L161.9 765.5L159.9 768.3L155.7 769.0L151.6 768.3L147.4 769.0L143.2 770.3L139.1 769.2L134.9 767.6L131.5 765.5L128.7 763.4L126.6 761.3L127.3 757.9L125.9 754.4L123.2 753.7L120.4 755.8L117.6 756.5L116.2 757.2M154.1 750.3L155.0 753.7L157.1 756.5L159.2 759.3L161.3 761.3L162.6 761.3M137.7 745.4L141.9 746.1L141.2 749.6L139.1 751.0L137.7 745.4M144.6 747.5L148.1 749.6L150.2 753.0L151.6 755.8L147.4 754.4L145.3 751.6ZM179.0 754.0L180.9 755.1L182.3 754.0M385.0 692.5L392.5 691.2L401.2 690.0L407.5 687.0L411.2 682.5L413.8 676.2L414.5 671.2L412.0 669.5L416.2 666.2L423.8 663.0L431.2 659.5L438.8 655.0L446.2 650.0L453.8 645.0L460.0 642.0L465.0 640.0L468.8 635.5L472.5 631.2L478.8 628.0L485.0 624.5L491.2 620.0L497.5 617.0L505.0 616.2L512.5 614.0L520.0 612.5L526.2 608.0L532.5 605.5L538.8 603.8L545.0 600.0L549.5 597.5L555.0 599.5L562.5 600.5L570.0 601.2L577.5 601.5L585.0 603.0L592.5 602.0L600.0 602.0L607.5 603.5L615.0 605.5L622.5 605.0L628.8 603.0L632.5 604.5L640.0 606.2L647.5 605.5L653.8 603.8L658.8 600.0L661.2 595.0L662.0 591.2L666.2 590.5L668.8 593.8L672.5 596.2L674.0 597.0M668.0 593.8L670.0 597.0L675.0 597.5L680.0 598.8L677.5 600.0L673.8 601.2L672.5 606.2L673.8 612.5L677.5 618.0L681.2 623.0L686.2 627.5L692.5 632.0L700.0 636.2L705.5 638.2L711.2 636.2L718.8 633.8L726.2 630.5L732.5 627.0L736.2 630.5L740.0 635.0L743.0 640.0L744.5 645.0L743.0 650.0L745.0 655.0L748.8 660.0L752.5 665.0L757.5 668.0L761.2 672.5L763.0 676.2L767.5 677.0L772.5 673.8L776.2 670.0L778.8 666.2L782.5 663.8L787.5 665.0L792.5 667.0L797.5 670.0L802.5 673.8L805.5 677.5L807.0 682.5L811.2 685.0L816.2 686.2L821.2 687.5L826.2 689.5L831.2 691.2L836.2 693.8L840.0 697.0L843.8 698.0L847.5 695.0L851.2 690.0L853.8 687.5L856.2 690.0L860.0 689.5L860.5 693.8L863.8 697.5L867.5 701.2L873.8 702.5M874.5 702.5L882.0 705.0L889.5 706.2L897.0 708.0L904.5 709.0L910.8 708.0L917.0 704.5L920.8 702.5L925.8 704.5L929.5 701.2L934.5 699.5L940.8 695.5L947.0 697.0L953.2 693.8L958.2 692.0L963.2 695.5L969.5 693.8L975.8 689.5L980.8 692.5L984.5 697.5L988.2 699.5L994.5 698.8L999.5 700.0L1003.2 703.0L1009.5 703.8L1015.8 702.5L1019.5 706.2L1024.5 708.0L1032.0 706.2L1038.2 703.8L1043.2 699.5L1048.2 697.0L1054.5 695.5L1060.8 693.0L1065.8 690.0L1070.8 686.2L1075.8 682.5L1082.0 680.0L1088.2 677.0L1094.5 673.0L1100.8 668.8L1107.0 664.5L1113.2 660.5L1118.2 654.5L1123.2 647.0L1125.8 640.0L1130.0 633.8L1134.0 626.2L1137.0 617.5L1139.0 608.8L1139.0 601.2L1136.5 592.5L1132.5 585.5L1134.5 582.5L1132.0 580.0M1132.0 580.0L1134.0 583.0L1130.8 585.0L1129.5 576.2L1127.5 566.2L1124.0 557.0L1121.5 548.0L1119.0 539.5L1117.5 532.0L1114.0 527.0L1107.5 523.2L1100.0 522.0L1094.0 520.5L1092.0 515.0L1090.0 508.8L1088.2 504.5L1084.5 502.0L1079.5 500.0L1075.8 493.8L1067.0 492.5L1059.5 491.2L1053.2 488.8L1047.0 485.0L1042.0 483.0L1039.0 486.2L1035.0 481.2L1034.0 473.8L1030.8 467.5L1022.0 463.8L1015.8 461.2L1009.5 456.2L1007.0 450.0L1000.8 446.2L995.8 441.2L994.5 440.0M805.5 293.8L808.8 295.0L816.2 298.0L822.5 301.2L826.2 305.0L827.5 310.0L829.5 316.2L832.0 322.5L834.5 327.5L838.8 331.2L845.0 333.0L851.2 334.5L857.0 335.0L860.0 331.2L859.5 327.5L863.0 328.8L866.2 332.5L870.0 333.8L868.8 337.5L872.5 340.5L876.2 343.8L880.0 343.0L882.5 347.5L886.2 352.5L890.0 358.0L896.2 360.5L903.8 363.8L912.5 366.2L920.0 368.0L926.2 370.0L931.2 373.0L933.8 378.8L940.0 382.5L946.2 386.2L948.0 391.2L952.5 395.5L957.5 400.5L962.5 406.2L968.0 412.0L973.8 417.5L977.5 423.8L983.8 428.0L988.8 433.8L995.0 440.0M876.2 342.5L878.8 341.2L880.5 343.8L878.0 345.5L876.2 342.5M563.8 288.8L567.0 295.0L568.0 302.5L567.0 310.0L564.5 316.2L563.0 323.8L563.8 330.0L562.5 336.2L565.0 338.8L558.8 339.5L553.8 342.5L557.5 345.5L563.8 347.5L566.2 351.2L571.2 356.2L576.2 360.5L581.2 361.2L588.8 361.2L596.2 360.0L602.5 358.8M553.8 342.5L556.2 340.0L561.2 338.8L565.0 338.0M400.0 138.8L407.5 139.5L413.8 138.0L418.8 135.0L421.2 130.0L419.5 125.0L416.2 121.2L415.5 118.8L418.8 123.8L422.5 125.0L425.0 121.2L427.0 117.0L425.0 122.5L423.0 127.0L422.0 132.5L423.0 137.5M423.0 137.5L427.5 136.2L433.8 135.5L440.0 137.5L446.2 138.8L450.0 135.0L451.2 128.8L448.8 125.0L446.2 121.2L448.8 116.2L452.5 112.5L455.5 111.2L454.5 115.0L451.2 118.8L452.0 123.8L453.8 128.8L455.0 135.0L460.0 138.8L466.2 141.2L471.2 143.0L475.0 142.5L480.0 146.2L483.8 150.0L486.2 152.0L480.0 153.0L475.0 151.2L470.0 149.5L465.0 150.0L460.0 148.8L453.8 147.5L447.5 145.5L440.0 144.5L432.5 145.0L426.2 146.2L422.5 143.8L421.2 142.0L423.0 137.5M475.0 147.5L478.8 153.8L482.5 151.2L477.5 150.0M433.8 156.2L436.2 152.5L441.2 151.2L447.5 152.5L453.8 153.8L458.8 156.2L460.0 160.5L456.2 163.0L450.0 164.5L443.8 165.5L438.8 167.5L437.5 171.2L441.2 173.0L446.2 170.0L451.2 171.2L456.2 173.8L461.2 175.0L466.2 178.0L471.2 181.2L472.5 186.2M422.5 143.8L426.2 148.8L431.2 153.8L435.0 158.8L438.8 162.5M421.2 163.8L421.2 168.8M425.0 174.5L437.5 177.5L450.0 181.2L462.5 185.0L475.0 188.8L487.5 192.5L500.0 195.5L512.5 198.0L525.0 199.2L531.2 198.8M437.5 171.2L435.0 175.0L437.5 177.5M492.5 193.8L498.8 190.5L507.5 188.8L517.5 188.0L526.2 187.0L528.8 184.5L531.2 188.0L536.2 186.2L540.0 180.0L541.2 185.0L545.0 190.0L548.8 188.8L551.2 193.0L556.2 196.2L560.0 192.5L563.8 188.0L567.0 185.0L568.8 188.8L570.5 193.8L569.5 200.0L571.2 204.5L575.0 206.2L578.8 207.0L575.0 210.0L573.8 216.2L571.2 212.0L566.2 213.0L561.2 216.2L556.2 219.5L550.0 222.5L543.8 225.0L537.0 221.2L536.2 226.2L530.0 230.0L525.0 233.8L520.0 238.0L515.0 242.5L510.0 245.5L503.8 248.8L498.8 251.2L493.8 255.0L489.5 258.8L488.0 262.5L491.2 266.2L496.2 268.0L501.2 270.0L506.2 267.0L511.2 265.0L517.5 264.5L522.5 266.2L527.5 264.5L532.5 261.2L538.8 257.0L535.0 260.0L530.0 263.8L526.2 268.0L530.0 272.5L535.0 277.0L540.0 282.0L545.0 286.2L551.2 282.5L556.2 281.2L561.2 285.0L564.5 290.0L567.0 296.2L568.0 300.0M492.5 193.8L505.0 193.0L515.0 195.0L525.0 197.0L531.2 198.8M511.2 196.2L517.5 194.5L523.8 195.5M650.0 185.0L652.5 192.5L655.0 200.0L658.8 210.0L662.5 220.0M651.2 183.8L655.0 195.0L660.0 207.5L665.0 220.0M640.0 183.8L643.8 182.0L648.8 183.8L650.0 188.8L648.8 195.0L650.0 200.0L647.5 205.0L643.8 210.0L638.8 212.5L633.8 216.2L630.0 221.2L632.5 223.8L637.5 220.0L642.5 217.5L647.5 213.8L650.0 217.5L646.2 222.5L641.2 226.2L636.2 228.8L641.2 230.0L646.2 227.5L651.2 225.0L655.0 227.5L652.5 232.5L650.0 236.2L653.8 235.0L657.5 231.2L661.2 233.8M627.5 207.5L630.0 203.8L633.8 201.2L636.2 205.0L632.5 208.8L629.5 212.5L631.2 216.2L635.0 213.8L638.8 210.0M640.0 183.8L639.5 190.0L637.5 196.2L635.0 200.0L637.5 202.5L641.2 198.8L643.8 192.5L646.2 186.2M643.8 210.0L646.2 206.2L650.0 207.5L652.5 211.2L651.2 216.2L653.8 220.0L656.2 216.2L655.0 210.0M681.2 151.2L678.8 147.5L681.2 147.0L683.8 152.5L685.0 158.8L687.5 163.8M652.5 183.8L655.0 180.0L658.8 177.5L663.8 176.2L668.8 173.8L673.8 170.0L678.8 166.2L682.5 162.5L685.5 164.5L683.8 157.5L681.2 151.2L678.8 147.5L680.0 149.5L682.5 155.0L685.5 164.5L688.8 165.0L685.5 170.0L682.5 175.0L680.0 180.0L676.2 183.8L671.2 187.0L666.2 189.5L664.5 192.0L667.5 192.5L673.8 190.0L678.8 186.2L682.5 181.2L685.5 175.0L688.8 168.8L692.5 162.5L697.5 157.5L703.8 153.8L710.0 148.8L716.2 143.8L722.5 140.0L730.0 136.2L737.5 134.5L745.0 133.8L751.2 134.5L755.0 137.5L752.5 142.5L748.8 147.5L743.8 151.2L747.5 150.5L751.2 146.2L755.0 140.0L758.8 133.8L763.8 130.0L770.0 127.0L777.5 123.8L783.8 122.5L790.0 126.2L792.5 132.5L790.0 137.0L795.0 131.2L798.8 125.0L803.8 118.8L810.0 112.5L817.5 108.8L823.8 107.0L827.5 110.0L826.2 114.5L831.2 110.0L835.0 105.0L838.8 98.8L842.5 93.8L847.5 91.2L855.0 90.5L862.5 91.2L870.0 90.0L877.5 89.5L881.2 88.0L885.0 91.2L891.2 88.0L897.5 86.2L903.8 85.0L909.0 84.5M906.2 85.0L910.0 82.0L913.8 87.5L922.5 85.0L930.0 83.0L937.5 80.5L941.2 75.5L948.8 73.0L956.2 72.0L962.5 74.5L961.2 80.0L962.5 86.2L965.0 92.5L966.2 97.0L960.0 98.0L953.8 95.0L948.8 99.5L942.5 103.8L936.2 107.5L930.0 110.0L923.8 111.2L917.5 113.0L911.2 115.0L906.2 114.5L908.0 118.8L903.8 122.5L902.5 126.2L906.2 125.0L911.2 125.5L915.5 128.0L917.0 132.0L913.8 135.0L908.8 136.2L902.5 135.5L897.5 132.0L895.0 128.0L891.2 130.0L885.0 133.8L877.5 136.2L870.0 135.5L862.5 133.8L856.2 131.2L859.5 138.8L863.8 147.5L868.0 156.2L873.8 163.0L876.2 160.0L882.5 161.2L887.5 165.0L892.0 170.0L895.0 175.0L894.5 181.2L898.8 179.5L903.8 182.5L910.0 187.5L915.5 191.2L916.2 195.0L911.2 196.2L905.0 193.8L900.0 190.0L896.2 186.2L892.5 185.5L890.0 190.0L887.0 195.0L885.0 201.2L882.0 206.2L881.2 200.0L877.5 197.5L873.0 201.2L869.5 207.5L867.5 215.0L865.5 222.5L861.2 227.5L855.0 231.2L850.0 232.5M961.2 73.8L964.5 75.0L962.5 77.0M892.5 176.2L893.0 185.0M661.2 220.0L663.8 226.2L667.5 233.8L671.2 241.2L673.8 248.8L672.5 256.2L668.8 257.5L665.5 257.0L663.8 262.5L662.5 264.5L668.8 264.5L672.5 265.5L678.8 267.5L685.0 270.0L691.2 273.8L694.5 275.5L697.5 271.2L690.0 262.5L682.5 252.5L675.0 241.2L668.8 231.2L662.5 221.2M665.5 257.0L667.5 261.2L669.5 264.5M630.0 220.0L635.0 223.8L638.8 221.2L637.5 226.2L641.2 230.0L645.0 226.2L643.8 231.2L648.8 232.5L652.5 228.8L655.0 225.0L657.5 231.2L661.2 233.8M697.5 271.2L705.0 268.8L712.5 266.2L717.5 262.5L721.2 257.5L722.5 253.8L726.2 253.8L727.5 257.5L731.2 260.5L736.2 261.2L741.2 257.5L747.5 253.8L753.8 251.2L760.0 252.0L763.8 255.0L770.0 253.8L773.8 257.5L776.2 256.2L778.8 257.5L780.0 261.2L776.2 265.0L772.5 266.2L770.0 268.8L773.8 271.2L769.5 273.0L766.2 275.5L765.0 280.0L765.5 285.0L768.8 288.8L772.5 291.2L770.0 293.8L763.8 295.0L757.5 296.2L750.0 295.0L742.5 294.5L736.2 296.2L731.2 298.8L726.2 299.5L723.0 299.5L721.2 295.0L717.5 291.2L712.5 288.8L706.2 287.5L700.0 288.0L695.0 291.2L692.5 295.0L693.8 299.5L691.2 303.8L687.5 302.5L683.8 306.2L680.0 308.8L676.2 312.5L673.8 318.8L671.2 321.2L666.2 317.5L660.0 317.0L653.8 318.8L647.5 320.5L641.2 323.0L635.0 326.2L630.0 330.0L626.2 335.0L623.0 340.0L620.0 345.0L615.0 348.8L610.0 351.2L605.0 353.8L600.0 358.0M780.0 268.8L786.2 261.2L790.0 257.5L795.0 256.2L800.0 258.0L805.5 262.0L812.5 265.0L820.0 267.0L827.5 266.2L833.8 266.2L838.8 263.8L843.8 260.0L846.2 255.0L847.5 247.5L846.2 240.0L848.8 233.8L853.8 231.2L860.0 228.8L863.8 223.8L866.2 220.0M786.2 261.2L788.8 265.0L791.2 268.8L796.2 267.5L802.5 266.2L805.5 265.5M790.0 262.5L793.0 264.5L792.0 267.0L790.0 262.5M810.0 270.0L812.5 268.0L817.5 268.8L823.8 270.0L827.0 271.2L823.8 273.8L817.5 275.0L812.5 276.2L809.5 273.8ZM777.5 280.0L782.5 278.0L790.0 276.2L797.5 273.8L805.5 272.5M777.5 280.0L778.8 285.0L782.5 288.0L790.0 289.5L797.5 291.2L805.5 293.8"/>
<path class="g" d="M175.5 0V790.5M385.5 0V790.5M595.5 0V790.5M805.5 0V790.5M1015.5 0V790.5M115.5 100.5H1156M115.5 300.5H1156M115.5 500.5H1156M115.5 700.5H1156M105.5 0.5H1155.5V801M105.5 0V801M110.5 0V801M115.5 0V801M105.5 790.5H1156M115.5 795.5H1156M110.5 0.5H115.5M110.5 17.0H115.5M110.5 34.0H115.5M110.5 50.5H115.5M110.5 67.0H115.5M110.5 84.0H115.5M110.5 100.5H115.5M110.5 117.0H115.5M110.5 134.0H115.5M110.5 150.5H115.5M110.5 167.0H115.5M110.5 184.0H115.5M110.5 200.5H115.5M110.5 217.0H115.5M110.5 234.0H115.5M110.5 250.5H115.5M110.5 267.0H115.5M110.5 284.0H115.5M110.5 300.5H115.5M110.5 317.0H115.5M110.5 334.0H115.5M110.5 350.5H115.5M110.5 367.0H115.5M110.5 384.0H115.5M110.5 400.5H115.5M110.5 417.0H115.5M110.5 434.0H115.5M110.5 450.5H115.5M110.5 467.0H115.5M110.5 484.0H115.5M110.5 500.5H115.5M110.5 517.0H115.5M110.5 534.0H115.5M110.5 550.5H115.5M110.5 567.0H115.5M110.5 584.0H115.5M110.5 600.5H115.5M110.5 617.0H115.5M110.5 634.0H115.5M110.5 650.5H115.5M110.5 667.0H115.5M110.5 684.0H115.5M110.5 700.5H115.5M110.5 717.0H115.5M110.5 734.0H115.5M110.5 750.5H115.5M110.5 767.0H115.5M110.5 784.0H115.5M117.5 790.5V795.5M128.5 790.5V795.5M140.5 790.5V795.5M152.5 790.5V795.5M163.5 790.5V795.5M175.5 790.5V795.5M187.5 790.5V795.5M198.5 790.5V795.5M210.5 790.5V795.5M222.5 790.5V795.5M233.5 790.5V795.5M245.5 790.5V795.5M257.5 790.5V795.5M268.5 790.5V795.5M280.5 790.5V795.5M292.5 790.5V795.5M303.5 790.5V795.5M315.5 790.5V795.5M327.5 790.5V795.5M338.5 790.5V795.5M350.5 790.5V795.5M362.5 790.5V795.5M373.5 790.5V795.5M385.5 790.5V795.5M397.5 790.5V795.5M408.5 790.5V795.5M420.5 790.5V795.5M432.5 790.5V795.5M443.5 790.5V795.5M455.5 790.5V795.5M467.5 790.5V795.5M478.5 790.5V795.5M490.5 790.5V795.5M502.5 790.5V795.5M513.5 790.5V795.5M525.5 790.5V795.5M537.5 790.5V795.5M548.5 790.5V795.5M560.5 790.5V795.5M572.5 790.5V795.5M583.5 790.5V795.5M595.5 790.5V795.5M607.5 790.5V795.5M618.5 790.5V795.5M630.5 790.5V795.5M642.5 790.5V795.5M653.5 790.5V795.5M665.5 790.5V795.5M677.5 790.5V795.5M688.5 790.5V795.5M700.5 790.5V795.5M712.5 790.5V795.5M723.5 790.5V795.5M735.5 790.5V795.5M747.5 790.5V795.5M758.5 790.5V795.5M770.5 790.5V795.5M782.5 790.5V795.5M793.5 790.5V795.5M805.5 790.5V795.5M817.5 790.5V795.5M828.5 790.5V795.5M840.5 790.5V795.5M852.5 790.5V795.5M863.5 790.5V795.5M875.5 790.5V795.5M887.5 790.5V795.5M898.5 790.5V795.5M910.5 790.5V795.5M922.5 790.5V795.5M933.5 790.5V795.5M945.5 790.5V795.5M957.5 790.5V795.5M968.5 790.5V795.5M980.5 790.5V795.5M992.5 790.5V795.5M1003.5 790.5V795.5M1015.5 790.5V795.5M1027.5 790.5V795.5M1038.5 790.5V795.5M1050.5 790.5V795.5M1062.5 790.5V795.5M1073.5 790.5V795.5M1085.5 790.5V795.5M1097.5 790.5V795.5M1108.5 790.5V795.5M1120.5 790.5V795.5M1132.5 790.5V795.5M1143.5 790.5V795.5M1155.5 790.5V795.5"/>
<g shape-rendering="crispEdges"><rect x="105" y="0" width="6" height="101" fill="#000"/><rect x="105" y="200" width="6" height="101" fill="#000"/><rect x="105" y="400" width="6" height="101" fill="#000"/><rect x="105" y="600" width="6" height="101" fill="#000"/><rect x="115" y="795" width="61" height="6" fill="#000"/><rect x="245" y="795" width="71" height="6" fill="#000"/><rect x="385" y="795" width="71" height="6" fill="#000"/><rect x="525" y="795" width="71" height="6" fill="#000"/><rect x="665" y="795" width="71" height="6" fill="#000"/><rect x="805" y="795" width="71" height="6" fill="#000"/><rect x="945" y="795" width="71" height="6" fill="#000"/><rect x="1085" y="795" width="71" height="6" fill="#000"/></g>
<rect x="38.5" y="0.5" width="28" height="600" fill="url(#cbar)" stroke="#000" stroke-width="1" shape-rendering="crispEdges"/>
<path class="g" d="M69.5 0V600.5M66.5 600.5H105.5"/>
<path class="g" d="M69.5 16.5H75.5M69.5 80.5H75.5M69.5 128.5H75.5M69.5 176.5H75.5M69.5 236.5H75.5M69.5 284.5H75.5M69.5 332.5H75.5M69.5 395.5H75.5M69.5 444.5H75.5M69.5 490.5H75.5M69.5 551.5H75.5"/>
<text class="cb" x="79.5" y="21.3">50</text>
<text class="cb" x="79.5" y="85.3">20</text>
<text class="cb" x="79.5" y="133.3">10</text>
<text class="cb" x="79.5" y="181.3">5</text>
<text class="cb" x="79.5" y="241.3">2</text>
<text class="cb" x="79.5" y="289.3">1</text>
<text class="cb" x="79.5" y="337.3">0.5</text>
<text class="cb" x="79.5" y="400.3">0.2</text>
<text class="cb" x="79.5" y="449.3">0.1</text>
<text class="cb" x="76" y="495.3">0.05</text>
<text class="cb" x="76" y="556.3">0.02</text>
<text class="cb" x="76" y="597.5">0.01</text>
<text transform="translate(27.8 463.5) rotate(-90)" font-family="Liberation Mono,monospace" font-size="20" fill="#000">Chlor_a concentration, mg<tspan letter-spacing="-3.7">·</tspan>m<tspan dy="-5.5" font-size="17.5">-3</tspan></text>
<text class="num" transform="translate(119.3 95.8) scale(0.93 1)" letter-spacing="2.4">47</text>
<text class="num" transform="translate(119.3 295.8) scale(0.93 1)" letter-spacing="2.4">45</text>
<text class="num" transform="translate(119.3 495.8) scale(0.93 1)" letter-spacing="2.4">43</text>
<text class="num" transform="translate(119.3 695.8) scale(0.93 1)" letter-spacing="2.4">41</text>
<text class="num" transform="translate(179.3 786.8) scale(0.93 1)" letter-spacing="2.4">28</text>
<text class="num" transform="translate(389.3 786.8) scale(0.93 1)" letter-spacing="2.4">31</text>
<text class="num" transform="translate(599.3 786.8) scale(0.93 1)" letter-spacing="2.4">34</text>
<text class="num" transform="translate(809.3 786.8) scale(0.93 1)" letter-spacing="2.4">37</text>
<text class="num" transform="translate(1019.3 786.8) scale(0.93 1)" letter-spacing="2.4">40</text>
<text class="hd" x="654.5" y="35.5" xml:space="preserve">VIIRS-NPP</text>
<text class="hd" x="654.5" y="51.5" xml:space="preserve">9 Apr 2026</text>
<text class="hd" x="654.5" y="67.5" xml:space="preserve">9:54 GMT</text>
<g>
<circle cx="279" cy="42.8" r="29" fill="#0c1cee"/>
<ellipse cx="279.5" cy="41" rx="11" ry="21" fill="none" stroke="#fff" stroke-width="0.8" transform="rotate(-33 279.5 41)"/>
<g fill="#fff"><circle cx="274" cy="18" r=".8"/><circle cx="284" cy="18" r="1"/><circle cx="281" cy="21" r=".7"/><circle cx="268" cy="27" r=".7"/><circle cx="300" cy="54" r="1"/><circle cx="291" cy="55" r=".7"/><circle cx="259" cy="57" r=".7"/><circle cx="269" cy="63" r=".8"/><circle cx="270" cy="66" r=".9"/><circle cx="281" cy="60" r=".7"/></g>
<path d="M244 50.8C262 45 292 37 314 20C301 37 273 56 255.5 69L253.8 67.2C268 56 282 47 293 38.5C279 44 262 49.5 244 50.8Z" fill="#f00014"/>
<text x="279" y="49.8" text-anchor="middle" font-family="Liberation Serif,serif" font-weight="bold" font-size="19" fill="#fff" textLength="52" lengthAdjust="spacingAndGlyphs">NASA</text>
<path d="M262 47.5C272 45.5 283 42 296 36C286 43 276 48 266 52Z" fill="#f00014" opacity=".0"/>
<text x="281" y="90.5" text-anchor="middle" font-family="Liberation Sans,sans-serif" font-size="16" fill="#1414f0" textLength="92" lengthAdjust="spacingAndGlyphs">OceanColor</text>
</g>
<g>
<circle cx="1085.5" cy="42.9" r="35.6" fill="none" stroke="#000" stroke-width="1"/>
<path class="c" stroke-linejoin="miter" d="M1052.5 40.8H1070.3V22.1L1076.5 39.7L1079.8 28.9H1081.6V40.8M1085.4 50.2V28.5H1092.2V40.1H1095.2L1102.7 22.9V40.8H1118.8"/>
<path class="c" stroke-linejoin="miter" d="M1052.5 40.8L1078.2 66.7H1079.8L1085.4 61.4L1091.4 66.7H1093.5L1118.8 40.8M1058.9 47.4H1081.7M1089.2 47.4H1112.4"/>
<path d="M1058.9 47.4L1078.2 66.7L1079.8 66.7L1084.9 61.8L1084.9 53.2L1084.0 53.2L1081.0 56.7L1078.0 56.7L1075.0 53.7L1072.0 56.7L1069.0 56.7L1066.0 53.7L1064.3 52.2L1062.0 49.5L1060.6 47.4Z" fill="#000"/>
<path d="M1111.9 47.4L1092.6 66.7L1091.0 66.7L1085.9 61.8L1085.9 53.2L1086.8 53.2L1089.8 56.7L1092.8 56.7L1095.8 53.7L1098.8 56.7L1101.8 56.7L1104.8 53.7L1106.5 52.2L1108.8 49.5L1110.2 47.4Z" fill="#000"/>
<path d="M1062.2 48.0L1066.0 51.7L1069.0 54.7L1072.0 54.7L1075.0 51.7L1078.0 54.7L1081.0 54.7L1084.0 51.2L1085.4 50.2M1108.6 48.0L1104.8 51.7L1101.8 54.7L1098.8 54.7L1095.8 51.7L1092.8 54.7L1089.8 54.7L1086.8 51.2L1085.4 50.2" fill="none" stroke="#000" stroke-width="0.9"/>
<text x="1086.3" y="93.8" text-anchor="middle" font-family="Liberation Mono,monospace" font-size="16.6" fill="#000" stroke="#000" stroke-width="0.45" xml:space="preserve">MHI RAS</text>
</g>
</svg></body></html>
